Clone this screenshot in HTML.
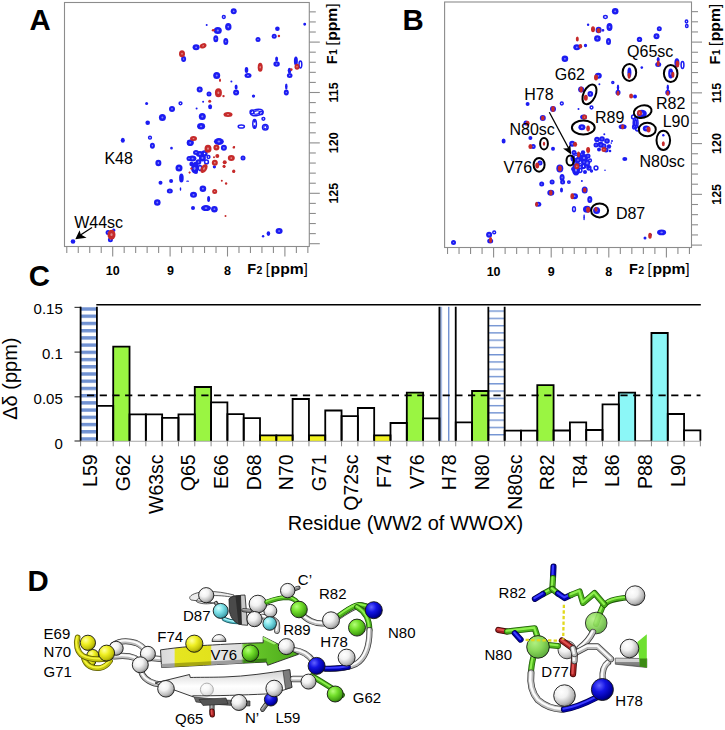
<!DOCTYPE html>
<html><head><meta charset="utf-8"><style>
html,body{margin:0;padding:0;background:#fff;}
body{width:725px;height:730px;overflow:hidden;}
svg{display:block;}
text{font-family:"Liberation Sans",sans-serif;fill:#000;}
.pl{font-size:29.4px;font-weight:bold;}
.ax{font-size:12.5px;font-weight:bold;}
.ax2{font-size:14px;font-weight:bold;}
.lb{font-size:16px;}
.yl{font-size:15px;}
.xl{font-size:19.5px;}
.yt{font-size:20px;}
.ld{font-size:15px;}
</style></head><body>
<svg width="725" height="730" viewBox="0 0 725 730">
<rect width="725" height="730" fill="#fff"/>
<text x="29.5" y="30" class="pl">A</text>
<text x="402.5" y="30" class="pl">B</text>
<rect x="64.5" y="2.5" width="244.8" height="244.0" fill="none" stroke="#8c8c8c" stroke-width="1.1"/>
<line x1="309.3" y1="11.86" x2="315.8" y2="11.86" stroke="#8c8c8c" stroke-width="1.1"/>
<line x1="309.3" y1="21.94" x2="315.8" y2="21.94" stroke="#8c8c8c" stroke-width="1.1"/>
<line x1="309.3" y1="32.02" x2="315.8" y2="32.02" stroke="#8c8c8c" stroke-width="1.1"/>
<line x1="309.3" y1="42.10" x2="319.8" y2="42.10" stroke="#8c8c8c" stroke-width="1.1"/>
<line x1="309.3" y1="52.18" x2="315.8" y2="52.18" stroke="#8c8c8c" stroke-width="1.1"/>
<line x1="309.3" y1="62.26" x2="315.8" y2="62.26" stroke="#8c8c8c" stroke-width="1.1"/>
<line x1="309.3" y1="72.34" x2="315.8" y2="72.34" stroke="#8c8c8c" stroke-width="1.1"/>
<line x1="309.3" y1="82.42" x2="315.8" y2="82.42" stroke="#8c8c8c" stroke-width="1.1"/>
<line x1="309.3" y1="92.50" x2="319.8" y2="92.50" stroke="#8c8c8c" stroke-width="1.1"/>
<line x1="309.3" y1="102.58" x2="315.8" y2="102.58" stroke="#8c8c8c" stroke-width="1.1"/>
<line x1="309.3" y1="112.66" x2="315.8" y2="112.66" stroke="#8c8c8c" stroke-width="1.1"/>
<line x1="309.3" y1="122.74" x2="315.8" y2="122.74" stroke="#8c8c8c" stroke-width="1.1"/>
<line x1="309.3" y1="132.82" x2="315.8" y2="132.82" stroke="#8c8c8c" stroke-width="1.1"/>
<line x1="309.3" y1="142.90" x2="319.8" y2="142.90" stroke="#8c8c8c" stroke-width="1.1"/>
<line x1="309.3" y1="152.98" x2="315.8" y2="152.98" stroke="#8c8c8c" stroke-width="1.1"/>
<line x1="309.3" y1="163.06" x2="315.8" y2="163.06" stroke="#8c8c8c" stroke-width="1.1"/>
<line x1="309.3" y1="173.14" x2="315.8" y2="173.14" stroke="#8c8c8c" stroke-width="1.1"/>
<line x1="309.3" y1="183.22" x2="315.8" y2="183.22" stroke="#8c8c8c" stroke-width="1.1"/>
<line x1="309.3" y1="193.30" x2="319.8" y2="193.30" stroke="#8c8c8c" stroke-width="1.1"/>
<line x1="309.3" y1="203.38" x2="315.8" y2="203.38" stroke="#8c8c8c" stroke-width="1.1"/>
<line x1="309.3" y1="213.46" x2="315.8" y2="213.46" stroke="#8c8c8c" stroke-width="1.1"/>
<line x1="309.3" y1="223.54" x2="315.8" y2="223.54" stroke="#8c8c8c" stroke-width="1.1"/>
<line x1="309.3" y1="233.62" x2="315.8" y2="233.62" stroke="#8c8c8c" stroke-width="1.1"/>
<line x1="309.3" y1="243.70" x2="319.8" y2="243.70" stroke="#8c8c8c" stroke-width="1.1"/>
<line x1="66.78" y1="246.5" x2="66.78" y2="253.0" stroke="#8c8c8c" stroke-width="1.1"/>
<line x1="78.26" y1="246.5" x2="78.26" y2="253.0" stroke="#8c8c8c" stroke-width="1.1"/>
<line x1="89.74" y1="246.5" x2="89.74" y2="253.0" stroke="#8c8c8c" stroke-width="1.1"/>
<line x1="101.22" y1="246.5" x2="101.22" y2="253.0" stroke="#8c8c8c" stroke-width="1.1"/>
<line x1="112.70" y1="246.5" x2="112.70" y2="256.5" stroke="#8c8c8c" stroke-width="1.1"/>
<line x1="124.18" y1="246.5" x2="124.18" y2="253.0" stroke="#8c8c8c" stroke-width="1.1"/>
<line x1="135.66" y1="246.5" x2="135.66" y2="253.0" stroke="#8c8c8c" stroke-width="1.1"/>
<line x1="147.14" y1="246.5" x2="147.14" y2="253.0" stroke="#8c8c8c" stroke-width="1.1"/>
<line x1="158.62" y1="246.5" x2="158.62" y2="253.0" stroke="#8c8c8c" stroke-width="1.1"/>
<line x1="170.10" y1="246.5" x2="170.10" y2="256.5" stroke="#8c8c8c" stroke-width="1.1"/>
<line x1="181.58" y1="246.5" x2="181.58" y2="253.0" stroke="#8c8c8c" stroke-width="1.1"/>
<line x1="193.06" y1="246.5" x2="193.06" y2="253.0" stroke="#8c8c8c" stroke-width="1.1"/>
<line x1="204.54" y1="246.5" x2="204.54" y2="253.0" stroke="#8c8c8c" stroke-width="1.1"/>
<line x1="216.02" y1="246.5" x2="216.02" y2="253.0" stroke="#8c8c8c" stroke-width="1.1"/>
<line x1="227.50" y1="246.5" x2="227.50" y2="256.5" stroke="#8c8c8c" stroke-width="1.1"/>
<line x1="238.98" y1="246.5" x2="238.98" y2="253.0" stroke="#8c8c8c" stroke-width="1.1"/>
<line x1="250.46" y1="246.5" x2="250.46" y2="253.0" stroke="#8c8c8c" stroke-width="1.1"/>
<line x1="261.94" y1="246.5" x2="261.94" y2="253.0" stroke="#8c8c8c" stroke-width="1.1"/>
<line x1="273.42" y1="246.5" x2="273.42" y2="253.0" stroke="#8c8c8c" stroke-width="1.1"/>
<line x1="284.90" y1="246.5" x2="284.90" y2="256.5" stroke="#8c8c8c" stroke-width="1.1"/>
<line x1="296.38" y1="246.5" x2="296.38" y2="253.0" stroke="#8c8c8c" stroke-width="1.1"/>
<line x1="307.86" y1="246.5" x2="307.86" y2="253.0" stroke="#8c8c8c" stroke-width="1.1"/>
<ellipse cx="223.8" cy="17" rx="1.40" ry="1.40" fill="none" stroke="#1c1cf2" stroke-width="1.5"/>
<ellipse cx="206.7" cy="24.9" rx="1" ry="1" fill="#1c1cf2"/>
<ellipse cx="217.8" cy="30.5" rx="4" ry="3.5" fill="#1c1cf2"/><ellipse cx="217.8" cy="30.5" rx="1.12" ry="0.98" fill="#fff" opacity="0.45"/>
<ellipse cx="228.3" cy="26.8" rx="3.2" ry="3.8" fill="#1c1cf2"/><ellipse cx="228.3" cy="26.8" rx="0.90" ry="1.06" fill="#fff" opacity="0.45"/>
<ellipse cx="215.8" cy="38.7" rx="2.5" ry="3.5" fill="#1c1cf2"/><ellipse cx="215.8" cy="38.7" rx="0.70" ry="0.98" fill="#fff" opacity="0.45"/>
<ellipse cx="225.8" cy="41.6" rx="2.5" ry="3.5" fill="#1c1cf2"/><ellipse cx="225.8" cy="41.6" rx="0.70" ry="0.98" fill="#fff" opacity="0.45"/>
<ellipse cx="196.1" cy="47.3" rx="3.5" ry="3" fill="#1c1cf2"/><ellipse cx="196.1" cy="47.3" rx="0.98" ry="0.84" fill="#fff" opacity="0.45"/>
<ellipse cx="183.6" cy="59" rx="2.5" ry="3" fill="#1c1cf2"/><ellipse cx="183.6" cy="59" rx="0.70" ry="0.84" fill="#fff" opacity="0.45"/>
<ellipse cx="216.7" cy="75.6" rx="3.5" ry="3.5" fill="#1c1cf2"/><ellipse cx="216.7" cy="75.6" rx="0.98" ry="0.98" fill="#fff" opacity="0.45"/>
<ellipse cx="233.7" cy="11.3" rx="3" ry="3" fill="#1c1cf2"/><ellipse cx="233.7" cy="11.3" rx="0.84" ry="0.84" fill="#fff" opacity="0.45"/>
<ellipse cx="258" cy="39.4" rx="2.5" ry="2.5" fill="#1c1cf2"/><ellipse cx="258" cy="39.4" rx="0.70" ry="0.70" fill="#fff" opacity="0.45"/>
<ellipse cx="277.4" cy="28.8" rx="2.3" ry="2.3" fill="#1c1cf2"/>
<ellipse cx="274.2" cy="36.2" rx="2.5" ry="2.5" fill="#1c1cf2"/><ellipse cx="274.2" cy="36.2" rx="0.70" ry="0.70" fill="#fff" opacity="0.45"/>
<ellipse cx="304.7" cy="24.3" rx="0.70" ry="0.70" fill="none" stroke="#1c1cf2" stroke-width="1.5"/>
<ellipse cx="276.6" cy="64" rx="3.2" ry="2.8" fill="#1c1cf2"/><ellipse cx="276.6" cy="64" rx="0.90" ry="0.78" fill="#fff" opacity="0.45"/>
<ellipse cx="276.6" cy="59" rx="1.5" ry="2.5" fill="#1c1cf2"/>
<ellipse cx="246.5" cy="70" rx="1.8" ry="3" fill="#1c1cf2"/>
<ellipse cx="248" cy="75.5" rx="3.5" ry="2.5" fill="#1c1cf2"/><ellipse cx="248" cy="75.5" rx="0.98" ry="0.70" fill="#fff" opacity="0.45"/>
<ellipse cx="289.5" cy="70.5" rx="1.8" ry="2.8" fill="#1c1cf2"/>
<ellipse cx="289.7" cy="75.5" rx="2.8" ry="2.5" fill="#1c1cf2"/><ellipse cx="289.7" cy="75.5" rx="0.78" ry="0.70" fill="#fff" opacity="0.45"/>
<ellipse cx="295.9" cy="61.1" rx="2" ry="4.5" fill="#1c1cf2"/>
<ellipse cx="300.4" cy="64.5" rx="1.40" ry="3.40" fill="none" stroke="#1c1cf2" stroke-width="1.5"/>
<ellipse cx="231.4" cy="81.4" rx="1" ry="1" fill="#1c1cf2"/>
<ellipse cx="122.8" cy="140.3" rx="2" ry="2.5" fill="#1c1cf2"/>
<ellipse cx="146.6" cy="103.5" rx="1.5" ry="1.5" fill="#1c1cf2"/>
<ellipse cx="147.7" cy="122.7" rx="2.3" ry="2.3" fill="#1c1cf2"/>
<ellipse cx="199.7" cy="89.4" rx="3" ry="3" fill="#1c1cf2"/><ellipse cx="199.7" cy="89.4" rx="0.84" ry="0.84" fill="#fff" opacity="0.45"/>
<ellipse cx="209" cy="93.9" rx="2.5" ry="2.5" fill="#1c1cf2"/><ellipse cx="209" cy="93.9" rx="0.70" ry="0.70" fill="#fff" opacity="0.45"/>
<ellipse cx="203.1" cy="101.8" rx="1" ry="1" fill="#1c1cf2"/>
<ellipse cx="210.1" cy="106.7" rx="2" ry="2.5" fill="#1c1cf2"/>
<ellipse cx="196.6" cy="108.6" rx="1" ry="1" fill="#1c1cf2"/>
<ellipse cx="180.5" cy="103.3" rx="1.40" ry="1.40" fill="none" stroke="#1c1cf2" stroke-width="1.5"/>
<ellipse cx="172" cy="108.9" rx="3" ry="3" fill="#1c1cf2"/><ellipse cx="172" cy="108.9" rx="0.84" ry="0.84" fill="#fff" opacity="0.45"/>
<ellipse cx="162.4" cy="117.4" rx="3.5" ry="3.5" fill="#1c1cf2"/><ellipse cx="162.4" cy="117.4" rx="0.98" ry="0.98" fill="#fff" opacity="0.45"/>
<ellipse cx="202.3" cy="116.5" rx="3.5" ry="3.5" fill="#1c1cf2"/><ellipse cx="202.3" cy="116.5" rx="0.98" ry="0.98" fill="#fff" opacity="0.45"/>
<ellipse cx="201.1" cy="126.3" rx="4" ry="3.3" fill="#1c1cf2"/><ellipse cx="201.1" cy="126.3" rx="1.12" ry="0.92" fill="#fff" opacity="0.45"/>
<ellipse cx="150" cy="137.7" rx="1.40" ry="1.40" fill="none" stroke="#1c1cf2" stroke-width="1.5"/>
<ellipse cx="152.4" cy="145.7" rx="2.5" ry="3" fill="#1c1cf2"/><ellipse cx="152.4" cy="145.7" rx="0.70" ry="0.84" fill="#fff" opacity="0.45"/>
<ellipse cx="171.5" cy="148.2" rx="0.60" ry="0.60" fill="none" stroke="#1c1cf2" stroke-width="1.5"/>
<ellipse cx="190.1" cy="142.7" rx="3.3" ry="3.3" fill="#1c1cf2"/><ellipse cx="190.1" cy="142.7" rx="0.92" ry="0.92" fill="#fff" opacity="0.45"/>
<ellipse cx="218.9" cy="141.6" rx="5" ry="3.5" fill="#1c1cf2"/><ellipse cx="218.9" cy="141.6" rx="1.40" ry="0.98" fill="#fff" opacity="0.45"/>
<ellipse cx="223.9" cy="147.8" rx="3" ry="3" fill="#1c1cf2"/><ellipse cx="223.9" cy="147.8" rx="0.84" ry="0.84" fill="#fff" opacity="0.45"/>
<ellipse cx="158.4" cy="163" rx="3" ry="3.2" fill="#1c1cf2"/><ellipse cx="158.4" cy="163" rx="0.84" ry="0.90" fill="#fff" opacity="0.45"/>
<ellipse cx="199.9" cy="154" rx="4" ry="3" fill="#1c1cf2"/><ellipse cx="199.9" cy="154" rx="1.12" ry="0.84" fill="#fff" opacity="0.45"/>
<ellipse cx="192.4" cy="158.6" rx="4" ry="3" fill="#1c1cf2"/><ellipse cx="192.4" cy="158.6" rx="1.12" ry="0.84" fill="#fff" opacity="0.45"/>
<ellipse cx="202.4" cy="158.1" rx="3.5" ry="3.5" fill="#1c1cf2"/><ellipse cx="202.4" cy="158.1" rx="0.98" ry="0.98" fill="#fff" opacity="0.45"/>
<ellipse cx="206.5" cy="161.9" rx="1.90" ry="1.90" fill="none" stroke="#1c1cf2" stroke-width="1.5"/>
<ellipse cx="195.3" cy="167.3" rx="3.5" ry="5.5" fill="#1c1cf2"/><ellipse cx="195.3" cy="167.3" rx="0.98" ry="1.54" fill="#fff" opacity="0.45"/>
<ellipse cx="214.4" cy="166.8" rx="0.90" ry="0.90" fill="none" stroke="#1c1cf2" stroke-width="1.5"/>
<ellipse cx="236.1" cy="92.5" rx="3" ry="3" fill="#1c1cf2"/><ellipse cx="236.1" cy="92.5" rx="0.84" ry="0.84" fill="#fff" opacity="0.45"/>
<ellipse cx="236.1" cy="87" rx="1.5" ry="2.5" fill="#1c1cf2"/>
<ellipse cx="286.3" cy="92.5" rx="2.5" ry="3" fill="#1c1cf2"/><ellipse cx="286.3" cy="92.5" rx="0.70" ry="0.84" fill="#fff" opacity="0.45"/>
<ellipse cx="286.3" cy="86.5" rx="1.3" ry="3" fill="#1c1cf2"/>
<ellipse cx="253.5" cy="96.1" rx="0.90" ry="0.90" fill="none" stroke="#1c1cf2" stroke-width="1.5"/>
<ellipse cx="256.8" cy="112.5" rx="6.40" ry="3.10" fill="none" stroke="#1c1cf2" stroke-width="1.5" transform="rotate(-10 256.8 112.5)"/><ellipse cx="256.8" cy="112.5" rx="3.15" ry="1.67" fill="none" stroke="#1c1cf2" stroke-width="1.1" transform="rotate(-10 256.8 112.5)"/>
<ellipse cx="252" cy="112" rx="1.90" ry="1.90" fill="none" stroke="#1c1cf2" stroke-width="1.5"/>
<ellipse cx="261" cy="113" rx="1.90" ry="1.60" fill="none" stroke="#1c1cf2" stroke-width="1.5"/>
<ellipse cx="263.4" cy="118.8" rx="1.40" ry="1.40" fill="none" stroke="#1c1cf2" stroke-width="1.5"/>
<ellipse cx="241.3" cy="126.5" rx="3.10" ry="1.60" fill="none" stroke="#1c1cf2" stroke-width="1.5"/>
<ellipse cx="254.6" cy="123.9" rx="1.80" ry="4.40" fill="none" stroke="#1c1cf2" stroke-width="1.5"/>
<ellipse cx="254.6" cy="121" rx="0.60" ry="1.00" fill="none" stroke="#1c1cf2" stroke-width="1.5"/>
<ellipse cx="254.6" cy="126.8" rx="0.60" ry="1.00" fill="none" stroke="#1c1cf2" stroke-width="1.5"/>
<ellipse cx="265.3" cy="127.2" rx="2.80" ry="2.80" fill="none" stroke="#1c1cf2" stroke-width="1.5"/><ellipse cx="265.3" cy="127.2" rx="1.53" ry="1.53" fill="none" stroke="#1c1cf2" stroke-width="1.1"/>
<ellipse cx="243" cy="158" rx="2.5" ry="2.5" fill="#1c1cf2"/><ellipse cx="243" cy="158" rx="0.70" ry="0.70" fill="#fff" opacity="0.45"/>
<ellipse cx="73" cy="241.5" rx="2.3" ry="2.3" fill="#1c1cf2"/>
<ellipse cx="108.1" cy="232.4" rx="2.5" ry="2.5" fill="#1c1cf2"/><ellipse cx="108.1" cy="232.4" rx="0.70" ry="0.70" fill="#fff" opacity="0.45"/>
<ellipse cx="110.4" cy="239.8" rx="2.5" ry="2.5" fill="#1c1cf2"/><ellipse cx="110.4" cy="239.8" rx="0.70" ry="0.70" fill="#fff" opacity="0.45"/>
<ellipse cx="113.8" cy="230.2" rx="0.90" ry="0.90" fill="none" stroke="#1c1cf2" stroke-width="1.5"/>
<ellipse cx="179" cy="168" rx="3.5" ry="3.5" fill="#1c1cf2"/><ellipse cx="179" cy="168" rx="0.98" ry="0.98" fill="#fff" opacity="0.45"/>
<ellipse cx="194.6" cy="168.5" rx="3.5" ry="5" fill="#1c1cf2"/><ellipse cx="194.6" cy="168.5" rx="0.98" ry="1.40" fill="#fff" opacity="0.45"/>
<ellipse cx="181.4" cy="178.1" rx="2.3" ry="4.5" fill="#1c1cf2"/>
<ellipse cx="160.5" cy="182.7" rx="2" ry="2" fill="#1c1cf2"/>
<ellipse cx="171.1" cy="181" rx="2" ry="2" fill="#1c1cf2"/>
<ellipse cx="187.6" cy="181.2" rx="1.5" ry="0.6" fill="#1c1cf2"/>
<ellipse cx="202.9" cy="188.7" rx="3.3" ry="3.3" fill="#1c1cf2"/><ellipse cx="202.9" cy="188.7" rx="0.92" ry="0.92" fill="#fff" opacity="0.45"/>
<ellipse cx="169.8" cy="191.1" rx="3" ry="2.5" fill="#1c1cf2"/><ellipse cx="169.8" cy="191.1" rx="0.84" ry="0.70" fill="#fff" opacity="0.45"/>
<ellipse cx="180.5" cy="189.1" rx="0.8" ry="1.8" fill="#1c1cf2"/>
<ellipse cx="193.5" cy="194.8" rx="3.5" ry="3" fill="#1c1cf2"/><ellipse cx="193.5" cy="194.8" rx="0.98" ry="0.84" fill="#fff" opacity="0.45"/>
<ellipse cx="208.6" cy="199.1" rx="1.5" ry="3" fill="#1c1cf2"/>
<ellipse cx="157.3" cy="202.5" rx="3.3" ry="3.3" fill="#1c1cf2"/><ellipse cx="157.3" cy="202.5" rx="0.92" ry="0.92" fill="#fff" opacity="0.45"/>
<ellipse cx="193" cy="208.1" rx="2" ry="2" fill="#1c1cf2"/>
<ellipse cx="206" cy="208.1" rx="5" ry="3" fill="#1c1cf2"/><ellipse cx="206" cy="208.1" rx="1.40" ry="0.84" fill="#fff" opacity="0.45"/>
<ellipse cx="214.4" cy="209.2" rx="3.3" ry="3.3" fill="#1c1cf2"/><ellipse cx="214.4" cy="209.2" rx="0.92" ry="0.92" fill="#fff" opacity="0.45"/>
<ellipse cx="263.1" cy="236.2" rx="1.2" ry="1.2" fill="#1c1cf2"/>
<ellipse cx="268.4" cy="233.6" rx="1.8" ry="2.3" fill="#1c1cf2"/>
<ellipse cx="279.1" cy="231" rx="3.5" ry="3" fill="#1c1cf2"/><ellipse cx="279.1" cy="231" rx="0.98" ry="0.84" fill="#fff" opacity="0.45"/>
<ellipse cx="190.3" cy="142.8" rx="3.5" ry="3" fill="#1c1cf2"/><ellipse cx="190.3" cy="142.8" rx="0.98" ry="0.84" fill="#fff" opacity="0.45"/>
<ellipse cx="196" cy="152.5" rx="3" ry="2.5" fill="#1c1cf2"/><ellipse cx="196" cy="152.5" rx="0.84" ry="0.70" fill="#fff" opacity="0.45"/>
<ellipse cx="204.5" cy="153.5" rx="2.40" ry="2.40" fill="none" stroke="#1c1cf2" stroke-width="1.5"/><ellipse cx="204.5" cy="153.5" rx="1.35" ry="1.35" fill="none" stroke="#1c1cf2" stroke-width="1.1"/>
<ellipse cx="189" cy="158.5" rx="2.5" ry="2.5" fill="#1c1cf2"/><ellipse cx="189" cy="158.5" rx="0.70" ry="0.70" fill="#fff" opacity="0.45"/>
<ellipse cx="198.5" cy="162" rx="2.8" ry="2.8" fill="#1c1cf2"/><ellipse cx="198.5" cy="162" rx="0.78" ry="0.78" fill="#fff" opacity="0.45"/>
<ellipse cx="208.5" cy="157" rx="1.40" ry="1.40" fill="none" stroke="#1c1cf2" stroke-width="1.5"/>
<ellipse cx="191.5" cy="164" rx="2.2" ry="2.2" fill="#1c1cf2"/>
<ellipse cx="200" cy="168" rx="1.60" ry="2.40" fill="none" stroke="#1c1cf2" stroke-width="1.5"/>
<ellipse cx="196" cy="172" rx="2" ry="2" fill="#1c1cf2"/>
<ellipse cx="213.3" cy="30.3" rx="1.5" ry="1.2" fill="#c62a2a"/>
<ellipse cx="203.1" cy="45.8" rx="3.5" ry="2.5" fill="#c62a2a" transform="rotate(-20 203.1 45.8)"/><ellipse cx="203.1" cy="45.8" rx="0.98" ry="0.70" fill="#fff" opacity="0.45" transform="rotate(-20 203.1 45.8)"/>
<ellipse cx="182" cy="53.7" rx="3" ry="3.5" fill="#c62a2a"/><ellipse cx="182" cy="53.7" rx="0.84" ry="0.98" fill="#fff" opacity="0.45"/>
<ellipse cx="220" cy="80.3" rx="1" ry="1.8" fill="#c62a2a"/>
<ellipse cx="278.9" cy="36" rx="1.2" ry="1.2" fill="#c62a2a"/>
<ellipse cx="260.2" cy="67.3" rx="2.5" ry="4.5" fill="#c62a2a"/><ellipse cx="260.2" cy="67.3" rx="0.70" ry="1.26" fill="#fff" opacity="0.45"/>
<ellipse cx="291.3" cy="69.6" rx="1.3" ry="1.3" fill="#c62a2a"/>
<ellipse cx="297" cy="66.7" rx="2.5" ry="3" fill="#c62a2a"/><ellipse cx="297" cy="66.7" rx="0.70" ry="0.84" fill="#fff" opacity="0.45"/>
<ellipse cx="218.4" cy="92.7" rx="3.5" ry="4.5" fill="#c62a2a"/><ellipse cx="218.4" cy="92.7" rx="0.98" ry="1.26" fill="#fff" opacity="0.45"/>
<ellipse cx="223.5" cy="96.1" rx="1.2" ry="1.2" fill="#c62a2a"/>
<ellipse cx="209.7" cy="101.2" rx="1.5" ry="1.5" fill="#c62a2a"/>
<ellipse cx="228" cy="114.6" rx="4.5" ry="2.5" fill="#c62a2a"/><ellipse cx="228" cy="114.6" rx="1.26" ry="0.70" fill="#fff" opacity="0.45"/>
<ellipse cx="193.5" cy="138.6" rx="3.5" ry="2.5" fill="#c62a2a"/><ellipse cx="193.5" cy="138.6" rx="0.98" ry="0.70" fill="#fff" opacity="0.45"/>
<ellipse cx="208" cy="148.7" rx="3.5" ry="4" fill="#c62a2a"/><ellipse cx="208" cy="148.7" rx="0.98" ry="1.12" fill="#fff" opacity="0.45"/>
<ellipse cx="216.4" cy="147.4" rx="3" ry="3" fill="#c62a2a"/><ellipse cx="216.4" cy="147.4" rx="0.84" ry="0.84" fill="#fff" opacity="0.45"/>
<ellipse cx="204" cy="168.5" rx="3" ry="5" fill="#c62a2a" transform="rotate(30 204 168.5)"/><ellipse cx="204" cy="168.5" rx="0.84" ry="1.40" fill="#fff" opacity="0.45" transform="rotate(30 204 168.5)"/>
<ellipse cx="214.8" cy="162.7" rx="3" ry="3" fill="#c62a2a"/><ellipse cx="214.8" cy="162.7" rx="0.84" ry="0.84" fill="#fff" opacity="0.45"/>
<ellipse cx="217.3" cy="156.1" rx="2" ry="2" fill="#c62a2a"/>
<ellipse cx="214" cy="157.3" rx="1" ry="1" fill="#c62a2a"/>
<ellipse cx="224.7" cy="162.3" rx="2" ry="2" fill="#c62a2a"/>
<ellipse cx="224.3" cy="166.4" rx="1" ry="1.5" fill="#c62a2a"/>
<ellipse cx="231.3" cy="158.1" rx="3.5" ry="3" fill="#c62a2a"/><ellipse cx="231.3" cy="158.1" rx="0.98" ry="0.84" fill="#fff" opacity="0.45"/>
<ellipse cx="233.8" cy="147.4" rx="1.2" ry="1.2" fill="#c62a2a"/>
<ellipse cx="233.8" cy="171" rx="1.5" ry="1.5" fill="#c62a2a"/>
<ellipse cx="189.5" cy="172.6" rx="0.8" ry="0.8" fill="#c62a2a"/>
<ellipse cx="191.6" cy="168.5" rx="0.8" ry="0.8" fill="#c62a2a"/>
<ellipse cx="234.2" cy="147" rx="1" ry="1" fill="#c62a2a"/>
<ellipse cx="111.5" cy="234.7" rx="4" ry="5" fill="#c62a2a"/><ellipse cx="111.5" cy="234.7" rx="1.12" ry="1.40" fill="#fff" opacity="0.45"/>
<ellipse cx="189.6" cy="172.5" rx="1" ry="1" fill="#c62a2a"/>
<ellipse cx="191.2" cy="168.5" rx="1" ry="1" fill="#c62a2a"/>
<ellipse cx="224" cy="166.3" rx="1.5" ry="1.5" fill="#c62a2a"/>
<ellipse cx="214.7" cy="191.4" rx="2.5" ry="2.5" fill="#c62a2a"/><ellipse cx="214.7" cy="191.4" rx="0.70" ry="0.70" fill="#fff" opacity="0.45"/>
<ellipse cx="221.8" cy="180.7" rx="1" ry="1" fill="#c62a2a"/>
<ellipse cx="226.1" cy="183.5" rx="1.2" ry="1.2" fill="#c62a2a"/>
<ellipse cx="225.5" cy="216" rx="1" ry="1" fill="#c62a2a"/>
<ellipse cx="233.7" cy="171.4" rx="1.5" ry="1.5" fill="#c62a2a"/>
<text class="ax" transform="translate(338,92.5) rotate(-90)" text-anchor="middle">115</text>
<text class="ax" transform="translate(338,142.8) rotate(-90)" text-anchor="middle">120</text>
<text class="ax" transform="translate(338,193.2) rotate(-90)" text-anchor="middle">125</text>
<g transform="translate(337.2,64.2) rotate(-90)" font-weight="bold" font-size="14.5"><text x="0">F</text><text x="9.3" font-size="10.5">1</text><text x="18.6" font-weight="normal">[</text><text x="23.4" textLength="33" lengthAdjust="spacingAndGlyphs">ppm</text><text x="56.6" font-weight="normal">]</text></g>
<text class="ax" x="112.7" y="274.5" text-anchor="middle">10</text>
<text class="ax" x="170.4" y="274.5" text-anchor="middle">9</text>
<text class="ax" x="227.5" y="274.5" text-anchor="middle">8</text>
<g transform="translate(247.2,273.6)" font-weight="bold" font-size="14.5"><text x="0">F</text><text x="9.3" font-size="10.5">2</text><text x="18.6" font-weight="normal">[</text><text x="23.4" textLength="33" lengthAdjust="spacingAndGlyphs">ppm</text><text x="56.6" font-weight="normal">]</text></g>
<text class="lb" x="104.4" y="164.3">K48</text>
<text class="lb" x="74.2" y="227.5">W44sc</text>
<line x1="92" y1="227.5" x2="79" y2="236" stroke="#000" stroke-width="1.3"/>
<path d="M75.3,239.2 L79.6,230.3 L80.8,234.4 L86.6,237.8 Z" fill="#000"/>
<rect x="444.6" y="2" width="246.89999999999998" height="245.5" fill="none" stroke="#8c8c8c" stroke-width="1.1"/>
<line x1="691.5" y1="11.65" x2="698.0" y2="11.65" stroke="#8c8c8c" stroke-width="1.1"/>
<line x1="691.5" y1="21.80" x2="698.0" y2="21.80" stroke="#8c8c8c" stroke-width="1.1"/>
<line x1="691.5" y1="31.95" x2="698.0" y2="31.95" stroke="#8c8c8c" stroke-width="1.1"/>
<line x1="691.5" y1="42.10" x2="702.0" y2="42.10" stroke="#8c8c8c" stroke-width="1.1"/>
<line x1="691.5" y1="52.25" x2="698.0" y2="52.25" stroke="#8c8c8c" stroke-width="1.1"/>
<line x1="691.5" y1="62.40" x2="698.0" y2="62.40" stroke="#8c8c8c" stroke-width="1.1"/>
<line x1="691.5" y1="72.55" x2="698.0" y2="72.55" stroke="#8c8c8c" stroke-width="1.1"/>
<line x1="691.5" y1="82.70" x2="698.0" y2="82.70" stroke="#8c8c8c" stroke-width="1.1"/>
<line x1="691.5" y1="92.85" x2="702.0" y2="92.85" stroke="#8c8c8c" stroke-width="1.1"/>
<line x1="691.5" y1="103.00" x2="698.0" y2="103.00" stroke="#8c8c8c" stroke-width="1.1"/>
<line x1="691.5" y1="113.15" x2="698.0" y2="113.15" stroke="#8c8c8c" stroke-width="1.1"/>
<line x1="691.5" y1="123.30" x2="698.0" y2="123.30" stroke="#8c8c8c" stroke-width="1.1"/>
<line x1="691.5" y1="133.45" x2="698.0" y2="133.45" stroke="#8c8c8c" stroke-width="1.1"/>
<line x1="691.5" y1="143.60" x2="702.0" y2="143.60" stroke="#8c8c8c" stroke-width="1.1"/>
<line x1="691.5" y1="153.75" x2="698.0" y2="153.75" stroke="#8c8c8c" stroke-width="1.1"/>
<line x1="691.5" y1="163.90" x2="698.0" y2="163.90" stroke="#8c8c8c" stroke-width="1.1"/>
<line x1="691.5" y1="174.05" x2="698.0" y2="174.05" stroke="#8c8c8c" stroke-width="1.1"/>
<line x1="691.5" y1="184.20" x2="698.0" y2="184.20" stroke="#8c8c8c" stroke-width="1.1"/>
<line x1="691.5" y1="194.35" x2="702.0" y2="194.35" stroke="#8c8c8c" stroke-width="1.1"/>
<line x1="691.5" y1="204.50" x2="698.0" y2="204.50" stroke="#8c8c8c" stroke-width="1.1"/>
<line x1="691.5" y1="214.65" x2="698.0" y2="214.65" stroke="#8c8c8c" stroke-width="1.1"/>
<line x1="691.5" y1="224.80" x2="698.0" y2="224.80" stroke="#8c8c8c" stroke-width="1.1"/>
<line x1="691.5" y1="234.95" x2="698.0" y2="234.95" stroke="#8c8c8c" stroke-width="1.1"/>
<line x1="691.5" y1="245.10" x2="702.0" y2="245.10" stroke="#8c8c8c" stroke-width="1.1"/>
<line x1="447.52" y1="247.5" x2="447.52" y2="254.0" stroke="#8c8c8c" stroke-width="1.1"/>
<line x1="459.04" y1="247.5" x2="459.04" y2="254.0" stroke="#8c8c8c" stroke-width="1.1"/>
<line x1="470.56" y1="247.5" x2="470.56" y2="254.0" stroke="#8c8c8c" stroke-width="1.1"/>
<line x1="482.08" y1="247.5" x2="482.08" y2="254.0" stroke="#8c8c8c" stroke-width="1.1"/>
<line x1="493.60" y1="247.5" x2="493.60" y2="257.5" stroke="#8c8c8c" stroke-width="1.1"/>
<line x1="505.12" y1="247.5" x2="505.12" y2="254.0" stroke="#8c8c8c" stroke-width="1.1"/>
<line x1="516.64" y1="247.5" x2="516.64" y2="254.0" stroke="#8c8c8c" stroke-width="1.1"/>
<line x1="528.16" y1="247.5" x2="528.16" y2="254.0" stroke="#8c8c8c" stroke-width="1.1"/>
<line x1="539.68" y1="247.5" x2="539.68" y2="254.0" stroke="#8c8c8c" stroke-width="1.1"/>
<line x1="551.20" y1="247.5" x2="551.20" y2="257.5" stroke="#8c8c8c" stroke-width="1.1"/>
<line x1="562.72" y1="247.5" x2="562.72" y2="254.0" stroke="#8c8c8c" stroke-width="1.1"/>
<line x1="574.24" y1="247.5" x2="574.24" y2="254.0" stroke="#8c8c8c" stroke-width="1.1"/>
<line x1="585.76" y1="247.5" x2="585.76" y2="254.0" stroke="#8c8c8c" stroke-width="1.1"/>
<line x1="597.28" y1="247.5" x2="597.28" y2="254.0" stroke="#8c8c8c" stroke-width="1.1"/>
<line x1="608.80" y1="247.5" x2="608.80" y2="257.5" stroke="#8c8c8c" stroke-width="1.1"/>
<line x1="620.32" y1="247.5" x2="620.32" y2="254.0" stroke="#8c8c8c" stroke-width="1.1"/>
<line x1="631.84" y1="247.5" x2="631.84" y2="254.0" stroke="#8c8c8c" stroke-width="1.1"/>
<line x1="643.36" y1="247.5" x2="643.36" y2="254.0" stroke="#8c8c8c" stroke-width="1.1"/>
<line x1="654.88" y1="247.5" x2="654.88" y2="254.0" stroke="#8c8c8c" stroke-width="1.1"/>
<line x1="666.40" y1="247.5" x2="666.40" y2="257.5" stroke="#8c8c8c" stroke-width="1.1"/>
<line x1="677.92" y1="247.5" x2="677.92" y2="254.0" stroke="#8c8c8c" stroke-width="1.1"/>
<line x1="689.44" y1="247.5" x2="689.44" y2="254.0" stroke="#8c8c8c" stroke-width="1.1"/>
<ellipse cx="605.4" cy="17" rx="1.90" ry="1.40" fill="none" stroke="#1c1cf2" stroke-width="1.5"/>
<ellipse cx="588.1" cy="24.7" rx="1.2" ry="1.2" fill="#1c1cf2"/>
<ellipse cx="598.6" cy="30" rx="3" ry="3.3" fill="#1c1cf2"/><ellipse cx="598.6" cy="30" rx="0.84" ry="0.92" fill="#fff" opacity="0.45"/>
<ellipse cx="603" cy="30.3" rx="0.60" ry="0.60" fill="none" stroke="#1c1cf2" stroke-width="1.5"/>
<ellipse cx="609.5" cy="27" rx="3" ry="4" fill="#1c1cf2"/><ellipse cx="609.5" cy="27" rx="0.84" ry="1.12" fill="#fff" opacity="0.45"/>
<ellipse cx="597.4" cy="38.5" rx="3.3" ry="3.3" fill="#1c1cf2"/><ellipse cx="597.4" cy="38.5" rx="0.92" ry="0.92" fill="#fff" opacity="0.45"/>
<ellipse cx="608.5" cy="41.5" rx="2.5" ry="3.5" fill="#1c1cf2"/><ellipse cx="608.5" cy="41.5" rx="0.70" ry="0.98" fill="#fff" opacity="0.45"/>
<ellipse cx="576.8" cy="47.3" rx="3.5" ry="3" fill="#1c1cf2"/><ellipse cx="576.8" cy="47.3" rx="0.98" ry="0.84" fill="#fff" opacity="0.45"/>
<ellipse cx="585.5" cy="45.5" rx="0.90" ry="0.90" fill="none" stroke="#1c1cf2" stroke-width="1.5"/>
<ellipse cx="564.9" cy="58.8" rx="3.3" ry="3.3" fill="#1c1cf2"/><ellipse cx="564.9" cy="58.8" rx="0.92" ry="0.92" fill="#fff" opacity="0.45"/>
<ellipse cx="598.3" cy="75.8" rx="3.5" ry="3" fill="#1c1cf2"/><ellipse cx="598.3" cy="75.8" rx="0.98" ry="0.84" fill="#fff" opacity="0.45"/>
<ellipse cx="615.2" cy="11.3" rx="3.3" ry="3.3" fill="#1c1cf2"/><ellipse cx="615.2" cy="11.3" rx="0.92" ry="0.92" fill="#fff" opacity="0.45"/>
<ellipse cx="639.5" cy="39.4" rx="2.7" ry="2.7" fill="#1c1cf2"/><ellipse cx="639.5" cy="39.4" rx="0.76" ry="0.76" fill="#fff" opacity="0.45"/>
<ellipse cx="659.3" cy="28.8" rx="2.5" ry="2.5" fill="#1c1cf2"/><ellipse cx="659.3" cy="28.8" rx="0.70" ry="0.70" fill="#fff" opacity="0.45"/>
<ellipse cx="656.5" cy="36.2" rx="3" ry="3" fill="#1c1cf2"/><ellipse cx="656.5" cy="36.2" rx="0.84" ry="0.84" fill="#fff" opacity="0.45"/>
<ellipse cx="686.5" cy="21.5" rx="1.20" ry="1.40" fill="none" stroke="#1c1cf2" stroke-width="1.5"/>
<ellipse cx="686.8" cy="26" rx="1.20" ry="1.60" fill="none" stroke="#1c1cf2" stroke-width="1.5"/>
<ellipse cx="612.8" cy="82.6" rx="1.00" ry="1.00" fill="none" stroke="#1c1cf2" stroke-width="1.5"/>
<ellipse cx="658.2" cy="64.5" rx="3" ry="2.5" fill="#1c1cf2"/><ellipse cx="658.2" cy="64.5" rx="0.84" ry="0.70" fill="#fff" opacity="0.45"/>
<ellipse cx="658.2" cy="59.5" rx="1.5" ry="2.5" fill="#1c1cf2"/>
<ellipse cx="676.9" cy="62.8" rx="2.5" ry="4.5" fill="#1c1cf2"/><ellipse cx="676.9" cy="62.8" rx="0.70" ry="1.26" fill="#fff" opacity="0.45"/>
<ellipse cx="682.5" cy="65" rx="1.40" ry="3.40" fill="none" stroke="#1c1cf2" stroke-width="1.5"/>
<ellipse cx="641.8" cy="67.6" rx="1.3" ry="1.3" fill="#1c1cf2"/>
<ellipse cx="629.4" cy="72.4" rx="2" ry="5" fill="#1c1cf2"/>
<ellipse cx="670.7" cy="73.5" rx="2.5" ry="5" fill="#1c1cf2"/><ellipse cx="670.7" cy="73.5" rx="0.70" ry="1.40" fill="#fff" opacity="0.45"/>
<ellipse cx="503.6" cy="141" rx="2" ry="2.5" fill="#1c1cf2"/>
<ellipse cx="527.6" cy="104" rx="2" ry="2" fill="#1c1cf2"/>
<ellipse cx="561.8" cy="103.5" rx="1.40" ry="1.40" fill="none" stroke="#1c1cf2" stroke-width="1.5"/>
<ellipse cx="553" cy="109.1" rx="3" ry="3" fill="#1c1cf2"/><ellipse cx="553" cy="109.1" rx="0.84" ry="0.84" fill="#fff" opacity="0.45"/>
<ellipse cx="542.8" cy="118" rx="3" ry="3" fill="#1c1cf2"/><ellipse cx="542.8" cy="118" rx="0.84" ry="0.84" fill="#fff" opacity="0.45"/>
<ellipse cx="526" cy="123" rx="2.5" ry="2.5" fill="#1c1cf2"/><ellipse cx="526" cy="123" rx="0.70" ry="0.70" fill="#fff" opacity="0.45"/>
<ellipse cx="530.4" cy="138" rx="2" ry="2" fill="#1c1cf2"/>
<ellipse cx="533.2" cy="146.5" rx="2.5" ry="2.5" fill="#1c1cf2"/><ellipse cx="533.2" cy="146.5" rx="0.70" ry="0.70" fill="#fff" opacity="0.45"/>
<ellipse cx="553" cy="148.7" rx="2" ry="2" fill="#1c1cf2"/>
<ellipse cx="581.1" cy="89.4" rx="3" ry="3" fill="#1c1cf2"/><ellipse cx="581.1" cy="89.4" rx="0.84" ry="0.84" fill="#fff" opacity="0.45"/>
<ellipse cx="590.3" cy="93.9" rx="2.8" ry="2.8" fill="#1c1cf2"/><ellipse cx="590.3" cy="93.9" rx="0.78" ry="0.78" fill="#fff" opacity="0.45"/>
<ellipse cx="591.5" cy="107.5" rx="1.40" ry="1.40" fill="none" stroke="#1c1cf2" stroke-width="1.5"/>
<ellipse cx="578.5" cy="109.1" rx="1" ry="1" fill="#1c1cf2"/>
<ellipse cx="599.4" cy="84.3" rx="1" ry="1" fill="#1c1cf2"/>
<ellipse cx="583.6" cy="117.1" rx="3.5" ry="2.5" fill="#1c1cf2"/><ellipse cx="583.6" cy="117.1" rx="0.98" ry="0.70" fill="#fff" opacity="0.45"/>
<ellipse cx="581.9" cy="127.2" rx="3.5" ry="3" fill="#1c1cf2"/><ellipse cx="581.9" cy="127.2" rx="0.98" ry="0.84" fill="#fff" opacity="0.45"/>
<ellipse cx="604.3" cy="134.3" rx="1" ry="1" fill="#1c1cf2"/>
<ellipse cx="600.5" cy="144.2" rx="3" ry="2.5" fill="#1c1cf2"/><ellipse cx="600.5" cy="144.2" rx="0.84" ry="0.70" fill="#fff" opacity="0.45"/>
<ellipse cx="572.2" cy="143.7" rx="3" ry="3" fill="#1c1cf2"/><ellipse cx="572.2" cy="143.7" rx="0.84" ry="0.84" fill="#fff" opacity="0.45"/>
<ellipse cx="576" cy="157" rx="3.40" ry="3.40" fill="none" stroke="#1c1cf2" stroke-width="1.5"/><ellipse cx="576" cy="157" rx="1.80" ry="1.80" fill="none" stroke="#1c1cf2" stroke-width="1.1"/>
<ellipse cx="584" cy="158" rx="4" ry="4" fill="#1c1cf2"/><ellipse cx="584" cy="158" rx="1.12" ry="1.12" fill="#fff" opacity="0.45"/>
<ellipse cx="580" cy="162" rx="3.40" ry="3.40" fill="none" stroke="#1c1cf2" stroke-width="1.5"/><ellipse cx="580" cy="162" rx="1.80" ry="1.80" fill="none" stroke="#1c1cf2" stroke-width="1.1"/>
<ellipse cx="587" cy="163" rx="2.40" ry="2.40" fill="none" stroke="#1c1cf2" stroke-width="1.5"/><ellipse cx="587" cy="163" rx="1.35" ry="1.35" fill="none" stroke="#1c1cf2" stroke-width="1.1"/>
<ellipse cx="575" cy="163" rx="3" ry="3" fill="#1c1cf2"/><ellipse cx="575" cy="163" rx="0.84" ry="0.84" fill="#fff" opacity="0.45"/>
<ellipse cx="574" cy="152.5" rx="2.5" ry="2.5" fill="#1c1cf2"/><ellipse cx="574" cy="152.5" rx="0.70" ry="0.70" fill="#fff" opacity="0.45"/>
<ellipse cx="579" cy="155" rx="2.5" ry="2.5" fill="#1c1cf2"/><ellipse cx="579" cy="155" rx="0.70" ry="0.70" fill="#fff" opacity="0.45"/>
<ellipse cx="583" cy="152.5" rx="2.2" ry="2.2" fill="#1c1cf2"/>
<ellipse cx="588" cy="156" rx="2.5" ry="2.5" fill="#1c1cf2"/><ellipse cx="588" cy="156" rx="0.70" ry="0.70" fill="#fff" opacity="0.45"/>
<ellipse cx="590" cy="160.5" rx="1.40" ry="1.40" fill="none" stroke="#1c1cf2" stroke-width="1.5"/>
<ellipse cx="572.5" cy="158.5" rx="2" ry="3" fill="#1c1cf2"/>
<ellipse cx="577.5" cy="165.5" rx="2.5" ry="2.5" fill="#1c1cf2"/><ellipse cx="577.5" cy="165.5" rx="0.70" ry="0.70" fill="#fff" opacity="0.45"/>
<ellipse cx="583" cy="166.5" rx="1.90" ry="1.90" fill="none" stroke="#1c1cf2" stroke-width="1.5"/>
<ellipse cx="588.5" cy="167" rx="2" ry="2" fill="#1c1cf2"/>
<ellipse cx="580" cy="170.5" rx="1.90" ry="1.90" fill="none" stroke="#1c1cf2" stroke-width="1.5"/>
<ellipse cx="578" cy="160" rx="3" ry="3" fill="#1c1cf2"/><ellipse cx="578" cy="160" rx="0.84" ry="0.84" fill="#fff" opacity="0.45"/>
<ellipse cx="584" cy="162" rx="2.5" ry="2.5" fill="#1c1cf2"/><ellipse cx="584" cy="162" rx="0.70" ry="0.70" fill="#fff" opacity="0.45"/>
<ellipse cx="575" cy="167" rx="2.5" ry="3" fill="#1c1cf2"/><ellipse cx="575" cy="167" rx="0.70" ry="0.84" fill="#fff" opacity="0.45"/>
<ellipse cx="585" cy="172" rx="2" ry="2" fill="#1c1cf2"/>
<ellipse cx="591.5" cy="171" rx="0.90" ry="0.90" fill="none" stroke="#1c1cf2" stroke-width="1.5"/>
<ellipse cx="573" cy="169" rx="2" ry="2" fill="#1c1cf2"/>
<ellipse cx="597" cy="139.5" rx="2.8" ry="2.8" fill="#1c1cf2"/><ellipse cx="597" cy="139.5" rx="0.78" ry="0.78" fill="#fff" opacity="0.45"/>
<ellipse cx="602" cy="139" rx="2.8" ry="2.8" fill="#1c1cf2"/><ellipse cx="602" cy="139" rx="0.78" ry="0.78" fill="#fff" opacity="0.45"/>
<ellipse cx="607" cy="141" rx="2.8" ry="2.8" fill="#1c1cf2"/><ellipse cx="607" cy="141" rx="0.78" ry="0.78" fill="#fff" opacity="0.45"/>
<ellipse cx="596" cy="145" rx="2.5" ry="2.5" fill="#1c1cf2"/><ellipse cx="596" cy="145" rx="0.70" ry="0.70" fill="#fff" opacity="0.45"/>
<ellipse cx="601" cy="145" rx="2.8" ry="2.8" fill="#1c1cf2"/><ellipse cx="601" cy="145" rx="0.78" ry="0.78" fill="#fff" opacity="0.45"/>
<ellipse cx="604" cy="146" rx="2.5" ry="2.5" fill="#1c1cf2"/><ellipse cx="604" cy="146" rx="0.70" ry="0.70" fill="#fff" opacity="0.45"/>
<ellipse cx="609" cy="146.5" rx="2.2" ry="2.2" fill="#1c1cf2"/>
<ellipse cx="599" cy="149.5" rx="2" ry="2" fill="#1c1cf2"/>
<ellipse cx="606" cy="150" rx="2.5" ry="2.5" fill="#1c1cf2"/><ellipse cx="606" cy="150" rx="0.70" ry="0.70" fill="#fff" opacity="0.45"/>
<ellipse cx="610" cy="151" rx="1.3" ry="1.3" fill="#1c1cf2"/>
<ellipse cx="612" cy="141" rx="1" ry="1" fill="#1c1cf2"/>
<ellipse cx="618" cy="92.5" rx="2.5" ry="2.8" fill="#1c1cf2"/><ellipse cx="618" cy="92.5" rx="0.70" ry="0.78" fill="#fff" opacity="0.45"/>
<ellipse cx="618" cy="87.5" rx="1.2" ry="3" fill="#1c1cf2"/>
<ellipse cx="635" cy="96.5" rx="2" ry="2" fill="#1c1cf2"/>
<ellipse cx="667.8" cy="92.5" rx="2.5" ry="2.8" fill="#1c1cf2"/><ellipse cx="667.8" cy="92.5" rx="0.70" ry="0.78" fill="#fff" opacity="0.45"/>
<ellipse cx="667.8" cy="87.5" rx="1.2" ry="3" fill="#1c1cf2"/>
<ellipse cx="641.8" cy="113.7" rx="5" ry="4" fill="#1c1cf2"/><ellipse cx="641.8" cy="113.7" rx="1.40" ry="1.12" fill="#fff" opacity="0.45"/>
<ellipse cx="635.6" cy="123" rx="2.40" ry="5.40" fill="none" stroke="#1c1cf2" stroke-width="1.5"/><ellipse cx="635.6" cy="123" rx="1.35" ry="2.70" fill="none" stroke="#1c1cf2" stroke-width="1.1"/>
<ellipse cx="635.6" cy="123" rx="0.90" ry="3.40" fill="none" stroke="#1c1cf2" stroke-width="1.5"/>
<ellipse cx="633.5" cy="117" rx="1.90" ry="1.90" fill="none" stroke="#1c1cf2" stroke-width="1.5"/>
<ellipse cx="637.5" cy="129" rx="1.90" ry="1.90" fill="none" stroke="#1c1cf2" stroke-width="1.5"/>
<ellipse cx="634" cy="127" rx="1.40" ry="1.90" fill="none" stroke="#1c1cf2" stroke-width="1.5"/>
<ellipse cx="622.6" cy="126.7" rx="4" ry="2.5" fill="#1c1cf2"/><ellipse cx="622.6" cy="126.7" rx="1.12" ry="0.70" fill="#fff" opacity="0.45"/>
<ellipse cx="646.3" cy="128.4" rx="3.5" ry="3" fill="#1c1cf2"/><ellipse cx="646.3" cy="128.4" rx="0.98" ry="0.84" fill="#fff" opacity="0.45"/>
<ellipse cx="663.3" cy="135.2" rx="1.2" ry="1.2" fill="#1c1cf2"/>
<ellipse cx="624.8" cy="159.1" rx="2.5" ry="2" fill="#1c1cf2"/>
<ellipse cx="611.3" cy="143.1" rx="0.8" ry="0.8" fill="#1c1cf2"/>
<ellipse cx="453.5" cy="242.6" rx="2.5" ry="2.5" fill="#1c1cf2"/><ellipse cx="453.5" cy="242.6" rx="0.70" ry="0.70" fill="#fff" opacity="0.45"/>
<ellipse cx="489.1" cy="234.7" rx="3" ry="3" fill="#1c1cf2"/><ellipse cx="489.1" cy="234.7" rx="0.84" ry="0.84" fill="#fff" opacity="0.45"/>
<ellipse cx="490.2" cy="240.9" rx="3" ry="2.5" fill="#1c1cf2"/><ellipse cx="490.2" cy="240.9" rx="0.84" ry="0.70" fill="#fff" opacity="0.45"/>
<ellipse cx="494.2" cy="232.4" rx="1.40" ry="1.40" fill="none" stroke="#1c1cf2" stroke-width="1.5"/>
<ellipse cx="540" cy="163" rx="2.5" ry="2.5" fill="#1c1cf2"/><ellipse cx="540" cy="163" rx="0.70" ry="0.70" fill="#fff" opacity="0.45"/>
<ellipse cx="559.8" cy="168.5" rx="3.5" ry="4" fill="#1c1cf2"/><ellipse cx="559.8" cy="168.5" rx="0.98" ry="1.12" fill="#fff" opacity="0.45"/>
<ellipse cx="576" cy="170" rx="4" ry="5.5" fill="#1c1cf2"/><ellipse cx="576" cy="170" rx="1.12" ry="1.54" fill="#fff" opacity="0.45"/>
<ellipse cx="584" cy="166" rx="1.90" ry="1.90" fill="none" stroke="#1c1cf2" stroke-width="1.5"/>
<ellipse cx="589" cy="168" rx="1.90" ry="1.90" fill="none" stroke="#1c1cf2" stroke-width="1.5"/>
<ellipse cx="596" cy="168" rx="1.90" ry="1.90" fill="none" stroke="#1c1cf2" stroke-width="1.5"/>
<ellipse cx="605" cy="170.2" rx="0.8" ry="0.8" fill="#1c1cf2"/>
<ellipse cx="562.1" cy="177.6" rx="2.5" ry="3.5" fill="#1c1cf2"/><ellipse cx="562.1" cy="177.6" rx="0.70" ry="0.98" fill="#fff" opacity="0.45"/>
<ellipse cx="562.6" cy="182.1" rx="2.5" ry="2.5" fill="#1c1cf2"/><ellipse cx="562.6" cy="182.1" rx="0.70" ry="0.70" fill="#fff" opacity="0.45"/>
<ellipse cx="568.9" cy="182.1" rx="1.20" ry="1.20" fill="none" stroke="#1c1cf2" stroke-width="1.5"/>
<ellipse cx="541.7" cy="184.1" rx="2.5" ry="2.5" fill="#1c1cf2"/><ellipse cx="541.7" cy="184.1" rx="0.70" ry="0.70" fill="#fff" opacity="0.45"/>
<ellipse cx="552.1" cy="181.9" rx="2.5" ry="2.5" fill="#1c1cf2"/><ellipse cx="552.1" cy="181.9" rx="0.70" ry="0.70" fill="#fff" opacity="0.45"/>
<ellipse cx="581.9" cy="181" rx="1" ry="1" fill="#1c1cf2"/>
<ellipse cx="550.8" cy="192.8" rx="3.5" ry="3" fill="#1c1cf2"/><ellipse cx="550.8" cy="192.8" rx="0.98" ry="0.84" fill="#fff" opacity="0.45"/>
<ellipse cx="561.5" cy="190" rx="1.5" ry="2.5" fill="#1c1cf2"/>
<ellipse cx="584.7" cy="190" rx="3" ry="3.5" fill="#1c1cf2"/><ellipse cx="584.7" cy="190" rx="0.84" ry="0.98" fill="#fff" opacity="0.45"/>
<ellipse cx="574.5" cy="196.2" rx="3.5" ry="3" fill="#1c1cf2"/><ellipse cx="574.5" cy="196.2" rx="0.98" ry="0.84" fill="#fff" opacity="0.45"/>
<ellipse cx="589.8" cy="199.6" rx="2.5" ry="3.5" fill="#1c1cf2"/><ellipse cx="589.8" cy="199.6" rx="0.70" ry="0.98" fill="#fff" opacity="0.45"/>
<ellipse cx="538.3" cy="204.2" rx="3" ry="2.5" fill="#1c1cf2"/><ellipse cx="538.3" cy="204.2" rx="0.84" ry="0.70" fill="#fff" opacity="0.45"/>
<ellipse cx="574" cy="209.2" rx="1.40" ry="2.40" fill="none" stroke="#1c1cf2" stroke-width="1.5"/>
<ellipse cx="587" cy="209.2" rx="4" ry="3.5" fill="#1c1cf2"/><ellipse cx="587" cy="209.2" rx="1.12" ry="0.98" fill="#fff" opacity="0.45"/>
<ellipse cx="584.1" cy="217.2" rx="0.8" ry="3" fill="#1c1cf2"/>
<ellipse cx="596.6" cy="210.4" rx="3.5" ry="3.5" fill="#1c1cf2"/><ellipse cx="596.6" cy="210.4" rx="0.98" ry="0.98" fill="#fff" opacity="0.45"/>
<ellipse cx="645" cy="238.1" rx="1.5" ry="1.5" fill="#1c1cf2"/>
<ellipse cx="651" cy="234.7" rx="1" ry="1" fill="#1c1cf2"/>
<ellipse cx="661.6" cy="232.4" rx="4.5" ry="2.8" fill="#1c1cf2"/><ellipse cx="661.6" cy="232.4" rx="1.26" ry="0.78" fill="#fff" opacity="0.45"/>
<ellipse cx="593" cy="29.2" rx="2" ry="3" fill="#c62a2a"/>
<ellipse cx="598.6" cy="30.5" rx="2" ry="2.5" fill="#c62a2a"/>
<ellipse cx="577.3" cy="39" rx="1.5" ry="2.5" fill="#c62a2a"/>
<ellipse cx="580.4" cy="46.2" rx="1.8" ry="2.2" fill="#c62a2a"/>
<ellipse cx="596" cy="77.5" rx="2" ry="3" fill="#c62a2a"/>
<ellipse cx="658.2" cy="63.5" rx="1.5" ry="3" fill="#c62a2a"/>
<ellipse cx="677.4" cy="63.9" rx="1.8" ry="3.5" fill="#c62a2a"/>
<ellipse cx="629.1" cy="75.8" rx="1.5" ry="3" fill="#c62a2a"/>
<ellipse cx="672.9" cy="74.7" rx="1.5" ry="3" fill="#c62a2a"/>
<ellipse cx="553" cy="109.1" rx="1.8" ry="3" fill="#c62a2a"/>
<ellipse cx="542.8" cy="118" rx="1.8" ry="2.5" fill="#c62a2a"/>
<ellipse cx="527.6" cy="123.3" rx="2" ry="2.5" fill="#c62a2a"/>
<ellipse cx="544" cy="143.7" rx="1.2" ry="2" fill="#c62a2a"/>
<ellipse cx="530.4" cy="146.5" rx="2" ry="2.5" fill="#c62a2a"/>
<ellipse cx="581.1" cy="89.4" rx="1.8" ry="3" fill="#c62a2a"/>
<ellipse cx="585.8" cy="97.8" rx="2" ry="3" fill="#c62a2a"/>
<ellipse cx="584.5" cy="117.1" rx="2.5" ry="2.5" fill="#c62a2a"/><ellipse cx="584.5" cy="117.1" rx="0.70" ry="0.70" fill="#fff" opacity="0.45"/>
<ellipse cx="588.1" cy="128.4" rx="1.8" ry="3" fill="#c62a2a"/>
<ellipse cx="603.9" cy="149.6" rx="2.5" ry="2.5" fill="#c62a2a"/><ellipse cx="603.9" cy="149.6" rx="0.70" ry="0.70" fill="#fff" opacity="0.45"/>
<ellipse cx="575.1" cy="144.2" rx="2" ry="2.5" fill="#c62a2a"/>
<ellipse cx="588.1" cy="149.9" rx="2" ry="3" fill="#c62a2a"/>
<ellipse cx="578.5" cy="154.4" rx="1.5" ry="3" fill="#c62a2a"/>
<ellipse cx="618" cy="93.3" rx="1.5" ry="2.5" fill="#c62a2a"/>
<ellipse cx="631.1" cy="96.1" rx="2" ry="2.5" fill="#c62a2a"/>
<ellipse cx="667.8" cy="93.3" rx="1.5" ry="2.5" fill="#c62a2a"/>
<ellipse cx="639.5" cy="113.1" rx="2.5" ry="3" fill="#c62a2a"/><ellipse cx="639.5" cy="113.1" rx="0.70" ry="0.84" fill="#fff" opacity="0.45"/>
<ellipse cx="622.6" cy="126.7" rx="1.5" ry="2.5" fill="#c62a2a"/>
<ellipse cx="648.6" cy="129.5" rx="2" ry="3" fill="#c62a2a"/>
<ellipse cx="663.3" cy="143.7" rx="1.5" ry="2.5" fill="#c62a2a"/>
<ellipse cx="490.6" cy="240" rx="1.5" ry="3" fill="#c62a2a"/>
<ellipse cx="537.2" cy="165.5" rx="2" ry="3" fill="#c62a2a"/>
<ellipse cx="559.8" cy="168.5" rx="2" ry="3" fill="#c62a2a"/>
<ellipse cx="576.8" cy="166.3" rx="2.5" ry="3" fill="#c62a2a"/><ellipse cx="576.8" cy="166.3" rx="0.70" ry="0.84" fill="#fff" opacity="0.45"/>
<ellipse cx="550.8" cy="192.8" rx="1.8" ry="2.8" fill="#c62a2a"/>
<ellipse cx="584.7" cy="190" rx="1.8" ry="2.5" fill="#c62a2a"/>
<ellipse cx="572.2" cy="196.2" rx="1.8" ry="3" fill="#c62a2a"/>
<ellipse cx="536.6" cy="204.2" rx="1.5" ry="2.5" fill="#c62a2a"/>
<ellipse cx="588.1" cy="209.8" rx="2" ry="3" fill="#c62a2a"/>
<ellipse cx="596" cy="209.2" rx="1.5" ry="2.5" fill="#c62a2a"/>
<ellipse cx="650" cy="235.8" rx="1.8" ry="3" fill="#c62a2a"/>
<ellipse cx="629.4" cy="72.4" rx="6.8" ry="8.5" fill="none" stroke="#000" stroke-width="2"/>
<ellipse cx="670.7" cy="73.5" rx="6.8" ry="8.5" fill="none" stroke="#000" stroke-width="2"/>
<ellipse cx="544" cy="143.7" rx="3.9" ry="5.7" fill="none" stroke="#000" stroke-width="2"/>
<ellipse cx="570.2" cy="160.4" rx="3.7" ry="5" fill="none" stroke="#000" stroke-width="2"/>
<ellipse cx="539.1" cy="164.8" rx="5.5" ry="6.9" fill="none" stroke="#000" stroke-width="2"/>
<ellipse cx="589.5" cy="94.4" rx="6" ry="10.5" fill="none" stroke="#000" stroke-width="2" transform="rotate(25 589.5 94.4)"/>
<ellipse cx="583.3" cy="127.5" rx="11.4" ry="7" fill="none" stroke="#000" stroke-width="2"/>
<ellipse cx="642.7" cy="111.6" rx="9" ry="6.2" fill="none" stroke="#000" stroke-width="2" transform="rotate(-15 642.7 111.6)"/>
<ellipse cx="647.3" cy="129.5" rx="8.5" ry="6.8" fill="none" stroke="#000" stroke-width="2"/>
<ellipse cx="663.3" cy="140.3" rx="6.8" ry="9.6" fill="none" stroke="#000" stroke-width="2"/>
<ellipse cx="599.6" cy="210.4" rx="8.5" ry="7" fill="none" stroke="#000" stroke-width="2"/>
<text class="ax" transform="translate(720.5,92.9) rotate(-90)" text-anchor="middle">115</text>
<text class="ax" transform="translate(720.5,143.6) rotate(-90)" text-anchor="middle">120</text>
<text class="ax" transform="translate(720.5,194.4) rotate(-90)" text-anchor="middle">125</text>
<g transform="translate(719.8,64.6) rotate(-90)" font-weight="bold" font-size="14.5"><text x="0">F</text><text x="9.3" font-size="10.5">1</text><text x="18.6" font-weight="normal">[</text><text x="23.4" textLength="33" lengthAdjust="spacingAndGlyphs">ppm</text><text x="56.6" font-weight="normal">]</text></g>
<text class="ax" x="493.6" y="276" text-anchor="middle">10</text>
<text class="ax" x="551.2" y="276" text-anchor="middle">9</text>
<text class="ax" x="608.8" y="276" text-anchor="middle">8</text>
<g transform="translate(629,273.8)" font-weight="bold" font-size="14.5"><text x="0">F</text><text x="9.3" font-size="10.5">2</text><text x="18.6" font-weight="normal">[</text><text x="23.4" textLength="33" lengthAdjust="spacingAndGlyphs">ppm</text><text x="56.6" font-weight="normal">]</text></g>
<text class="lb" x="627.1" y="57">Q65sc</text>
<text class="lb" x="554.7" y="80.2">G62</text>
<text class="lb" x="524.2" y="99.6">H78</text>
<text class="lb" x="656" y="109.2">R82</text>
<text class="lb" x="595" y="122.8">R89</text>
<text class="lb" x="662.7" y="127.3">L90</text>
<text class="lb" x="509.5" y="135">N80sc</text>
<text class="lb" x="503.6" y="173.2">V76</text>
<text class="lb" x="639.5" y="167.2">N80sc</text>
<text class="lb" x="615.9" y="219.1">D87</text>
<line x1="549.3" y1="112.3" x2="568.5" y2="148" stroke="#000" stroke-width="1.3"/>
<path d="M571.2,154.5 L563,148.6 L567.6,148.2 L570.3,144.5 Z" fill="#000"/>
<text x="28.8" y="285.6" class="pl">C</text>
<defs>
<pattern id="hs" x="0" y="307.3" width="20" height="7.22" patternUnits="userSpaceOnUse"><rect width="20" height="7.22" fill="#fff"/><rect y="0" width="20" height="3.4" fill="#7192d2"/></pattern>
<pattern id="hs2" x="0" y="310.4" width="20" height="7.27" patternUnits="userSpaceOnUse"><rect width="20" height="7.27" fill="#fff"/><rect y="0" width="20" height="1.4" fill="#7192d2"/></pattern>
<pattern id="vs" x="440.3" y="0" width="7.7" height="20" patternUnits="userSpaceOnUse"><rect width="7.7" height="20" fill="#fff"/><rect x="0" width="1.4" height="20" fill="#7192d2"/></pattern>
</defs>
<line x1="80.6" y1="440.8" x2="700.38" y2="440.8" stroke="#7a7a7a" stroke-width="1.3"/>
<line x1="80.60" y1="440.8" x2="80.60" y2="446.3" stroke="#8c8c8c" stroke-width="1"/>
<line x1="96.91" y1="440.8" x2="96.91" y2="446.3" stroke="#8c8c8c" stroke-width="1"/>
<line x1="113.22" y1="440.8" x2="113.22" y2="446.3" stroke="#8c8c8c" stroke-width="1"/>
<line x1="129.53" y1="440.8" x2="129.53" y2="446.3" stroke="#8c8c8c" stroke-width="1"/>
<line x1="145.84" y1="440.8" x2="145.84" y2="446.3" stroke="#8c8c8c" stroke-width="1"/>
<line x1="162.15" y1="440.8" x2="162.15" y2="446.3" stroke="#8c8c8c" stroke-width="1"/>
<line x1="178.46" y1="440.8" x2="178.46" y2="446.3" stroke="#8c8c8c" stroke-width="1"/>
<line x1="194.77" y1="440.8" x2="194.77" y2="446.3" stroke="#8c8c8c" stroke-width="1"/>
<line x1="211.08" y1="440.8" x2="211.08" y2="446.3" stroke="#8c8c8c" stroke-width="1"/>
<line x1="227.39" y1="440.8" x2="227.39" y2="446.3" stroke="#8c8c8c" stroke-width="1"/>
<line x1="243.70" y1="440.8" x2="243.70" y2="446.3" stroke="#8c8c8c" stroke-width="1"/>
<line x1="260.01" y1="440.8" x2="260.01" y2="446.3" stroke="#8c8c8c" stroke-width="1"/>
<line x1="276.32" y1="440.8" x2="276.32" y2="446.3" stroke="#8c8c8c" stroke-width="1"/>
<line x1="292.63" y1="440.8" x2="292.63" y2="446.3" stroke="#8c8c8c" stroke-width="1"/>
<line x1="308.94" y1="440.8" x2="308.94" y2="446.3" stroke="#8c8c8c" stroke-width="1"/>
<line x1="325.25" y1="440.8" x2="325.25" y2="446.3" stroke="#8c8c8c" stroke-width="1"/>
<line x1="341.56" y1="440.8" x2="341.56" y2="446.3" stroke="#8c8c8c" stroke-width="1"/>
<line x1="357.87" y1="440.8" x2="357.87" y2="446.3" stroke="#8c8c8c" stroke-width="1"/>
<line x1="374.18" y1="440.8" x2="374.18" y2="446.3" stroke="#8c8c8c" stroke-width="1"/>
<line x1="390.49" y1="440.8" x2="390.49" y2="446.3" stroke="#8c8c8c" stroke-width="1"/>
<line x1="406.80" y1="440.8" x2="406.80" y2="446.3" stroke="#8c8c8c" stroke-width="1"/>
<line x1="423.11" y1="440.8" x2="423.11" y2="446.3" stroke="#8c8c8c" stroke-width="1"/>
<line x1="439.42" y1="440.8" x2="439.42" y2="446.3" stroke="#8c8c8c" stroke-width="1"/>
<line x1="455.73" y1="440.8" x2="455.73" y2="446.3" stroke="#8c8c8c" stroke-width="1"/>
<line x1="472.04" y1="440.8" x2="472.04" y2="446.3" stroke="#8c8c8c" stroke-width="1"/>
<line x1="488.35" y1="440.8" x2="488.35" y2="446.3" stroke="#8c8c8c" stroke-width="1"/>
<line x1="504.66" y1="440.8" x2="504.66" y2="446.3" stroke="#8c8c8c" stroke-width="1"/>
<line x1="520.97" y1="440.8" x2="520.97" y2="446.3" stroke="#8c8c8c" stroke-width="1"/>
<line x1="537.28" y1="440.8" x2="537.28" y2="446.3" stroke="#8c8c8c" stroke-width="1"/>
<line x1="553.59" y1="440.8" x2="553.59" y2="446.3" stroke="#8c8c8c" stroke-width="1"/>
<line x1="569.90" y1="440.8" x2="569.90" y2="446.3" stroke="#8c8c8c" stroke-width="1"/>
<line x1="586.21" y1="440.8" x2="586.21" y2="446.3" stroke="#8c8c8c" stroke-width="1"/>
<line x1="602.52" y1="440.8" x2="602.52" y2="446.3" stroke="#8c8c8c" stroke-width="1"/>
<line x1="618.83" y1="440.8" x2="618.83" y2="446.3" stroke="#8c8c8c" stroke-width="1"/>
<line x1="635.14" y1="440.8" x2="635.14" y2="446.3" stroke="#8c8c8c" stroke-width="1"/>
<line x1="651.45" y1="440.8" x2="651.45" y2="446.3" stroke="#8c8c8c" stroke-width="1"/>
<line x1="667.76" y1="440.8" x2="667.76" y2="446.3" stroke="#8c8c8c" stroke-width="1"/>
<line x1="684.07" y1="440.8" x2="684.07" y2="446.3" stroke="#8c8c8c" stroke-width="1"/>
<line x1="700.38" y1="440.8" x2="700.38" y2="446.3" stroke="#8c8c8c" stroke-width="1"/>
<line x1="80.6" y1="306.8" x2="80.6" y2="440.8" stroke="#8c8c8c" stroke-width="1.2"/>
<line x1="74.5" y1="307.4" x2="80.6" y2="307.4" stroke="#404040" stroke-width="1.2"/>
<line x1="74.5" y1="352.1" x2="80.6" y2="352.1" stroke="#404040" stroke-width="1.2"/>
<line x1="74.5" y1="396.8" x2="80.6" y2="396.8" stroke="#404040" stroke-width="1.2"/>
<line x1="74.5" y1="441" x2="80.6" y2="441" stroke="#404040" stroke-width="1.2"/>
<text class="yl" x="62.8" y="313.9" text-anchor="end">0.15</text>
<text class="yl" x="62.8" y="359.2" text-anchor="end">0.1</text>
<text class="yl" x="62.8" y="403.8" text-anchor="end">0.05</text>
<text class="yl" x="62.8" y="448.6" text-anchor="end">0</text>
<rect x="80.60" y="306.8" width="16.31" height="134.00" fill="url(#hs)"/>
<rect x="96.91" y="405.8" width="16.31" height="35.00" fill="#fff"/>
<rect x="113.22" y="346.6" width="16.31" height="94.20" fill="#9af542"/>
<rect x="129.53" y="414.4" width="16.31" height="26.40" fill="#fff"/>
<rect x="145.84" y="414.4" width="16.31" height="26.40" fill="#fff"/>
<rect x="162.15" y="417.9" width="16.31" height="22.90" fill="#fff"/>
<rect x="178.46" y="414.4" width="16.31" height="26.40" fill="#fff"/>
<rect x="194.77" y="387" width="16.31" height="53.80" fill="#9af542"/>
<rect x="211.08" y="402.4" width="16.31" height="38.40" fill="#fff"/>
<rect x="227.39" y="414.2" width="16.31" height="26.60" fill="#fff"/>
<rect x="243.70" y="418.2" width="16.31" height="22.60" fill="#fff"/>
<rect x="260.01" y="435.3" width="16.31" height="5.50" fill="#f2f21e"/>
<rect x="276.32" y="435.3" width="16.31" height="5.50" fill="#f2f21e"/>
<rect x="292.63" y="399" width="16.31" height="41.80" fill="#fff"/>
<rect x="308.94" y="435.3" width="16.31" height="5.50" fill="#f2f21e"/>
<rect x="325.25" y="410.5" width="16.31" height="30.30" fill="#fff"/>
<rect x="341.56" y="416.2" width="16.31" height="24.60" fill="#fff"/>
<rect x="357.87" y="408" width="16.31" height="32.80" fill="#fff"/>
<rect x="374.18" y="435.3" width="16.31" height="5.50" fill="#f2f21e"/>
<rect x="390.49" y="423" width="16.31" height="17.80" fill="#fff"/>
<rect x="406.80" y="392.6" width="16.31" height="48.20" fill="#9af542"/>
<rect x="423.11" y="418.3" width="16.31" height="22.50" fill="#fff"/>
<rect x="439.42" y="306.8" width="16.31" height="134.00" fill="url(#vs)"/>
<rect x="455.73" y="422.4" width="16.31" height="18.40" fill="#fff"/>
<rect x="472.04" y="391" width="16.31" height="49.80" fill="#9af542"/>
<rect x="488.35" y="306.8" width="16.31" height="134.00" fill="url(#hs2)"/>
<rect x="504.66" y="430.7" width="16.31" height="10.10" fill="#fff"/>
<rect x="520.97" y="430.7" width="16.31" height="10.10" fill="#fff"/>
<rect x="537.28" y="385.2" width="16.31" height="55.60" fill="#9af542"/>
<rect x="553.59" y="430.5" width="16.31" height="10.30" fill="#fff"/>
<rect x="569.90" y="422.3" width="16.31" height="18.50" fill="#fff"/>
<rect x="586.21" y="430" width="16.31" height="10.80" fill="#fff"/>
<rect x="602.52" y="404.3" width="16.31" height="36.50" fill="#fff"/>
<rect x="618.83" y="392.6" width="16.31" height="48.20" fill="#8cf7f7"/>
<rect x="651.45" y="333" width="16.31" height="107.80" fill="#8cf7f7"/>
<rect x="667.76" y="414" width="16.31" height="26.80" fill="#fff"/>
<rect x="684.07" y="430.3" width="16.31" height="10.50" fill="#fff"/>
<path d="M80.60,306.8 V440.8 M96.91,306.8 V440.8" stroke="#000" stroke-width="1.8" fill="none"/>
<path d="M96.91,440.8 V405.8 H113.22 V440.8" stroke="#000" stroke-width="1.8" fill="none"/>
<path d="M113.22,440.8 V346.6 H129.53 V440.8" stroke="#000" stroke-width="1.8" fill="none"/>
<path d="M129.53,440.8 V414.4 H145.84 V440.8" stroke="#000" stroke-width="1.8" fill="none"/>
<path d="M145.84,440.8 V414.4 H162.15 V440.8" stroke="#000" stroke-width="1.8" fill="none"/>
<path d="M162.15,440.8 V417.9 H178.46 V440.8" stroke="#000" stroke-width="1.8" fill="none"/>
<path d="M178.46,440.8 V414.4 H194.77 V440.8" stroke="#000" stroke-width="1.8" fill="none"/>
<path d="M194.77,440.8 V387 H211.08 V440.8" stroke="#000" stroke-width="1.8" fill="none"/>
<path d="M211.08,440.8 V402.4 H227.39 V440.8" stroke="#000" stroke-width="1.8" fill="none"/>
<path d="M227.39,440.8 V414.2 H243.70 V440.8" stroke="#000" stroke-width="1.8" fill="none"/>
<path d="M243.70,440.8 V418.2 H260.01 V440.8" stroke="#000" stroke-width="1.8" fill="none"/>
<path d="M260.01,440.8 V435.3 H276.32 V440.8" stroke="#000" stroke-width="1.8" fill="none"/>
<path d="M276.32,440.8 V435.3 H292.63 V440.8" stroke="#000" stroke-width="1.8" fill="none"/>
<path d="M292.63,440.8 V399 H308.94 V440.8" stroke="#000" stroke-width="1.8" fill="none"/>
<path d="M308.94,440.8 V435.3 H325.25 V440.8" stroke="#000" stroke-width="1.8" fill="none"/>
<path d="M325.25,440.8 V410.5 H341.56 V440.8" stroke="#000" stroke-width="1.8" fill="none"/>
<path d="M341.56,440.8 V416.2 H357.87 V440.8" stroke="#000" stroke-width="1.8" fill="none"/>
<path d="M357.87,440.8 V408 H374.18 V440.8" stroke="#000" stroke-width="1.8" fill="none"/>
<path d="M374.18,440.8 V435.3 H390.49 V440.8" stroke="#000" stroke-width="1.8" fill="none"/>
<path d="M390.49,440.8 V423 H406.80 V440.8" stroke="#000" stroke-width="1.8" fill="none"/>
<path d="M406.80,440.8 V392.6 H423.11 V440.8" stroke="#000" stroke-width="1.8" fill="none"/>
<path d="M423.11,440.8 V418.3 H439.42 V440.8" stroke="#000" stroke-width="1.8" fill="none"/>
<path d="M439.42,306.8 V440.8 M455.73,306.8 V440.8" stroke="#000" stroke-width="1.8" fill="none"/>
<path d="M455.73,440.8 V422.4 H472.04 V440.8" stroke="#000" stroke-width="1.8" fill="none"/>
<path d="M472.04,440.8 V391 H488.35 V440.8" stroke="#000" stroke-width="1.8" fill="none"/>
<path d="M488.35,306.8 V440.8 M504.66,306.8 V440.8" stroke="#000" stroke-width="1.8" fill="none"/>
<path d="M504.66,440.8 V430.7 H520.97 V440.8" stroke="#000" stroke-width="1.8" fill="none"/>
<path d="M520.97,440.8 V430.7 H537.28 V440.8" stroke="#000" stroke-width="1.8" fill="none"/>
<path d="M537.28,440.8 V385.2 H553.59 V440.8" stroke="#000" stroke-width="1.8" fill="none"/>
<path d="M553.59,440.8 V430.5 H569.90 V440.8" stroke="#000" stroke-width="1.8" fill="none"/>
<path d="M569.90,440.8 V422.3 H586.21 V440.8" stroke="#000" stroke-width="1.8" fill="none"/>
<path d="M586.21,440.8 V430 H602.52 V440.8" stroke="#000" stroke-width="1.8" fill="none"/>
<path d="M602.52,440.8 V404.3 H618.83 V440.8" stroke="#000" stroke-width="1.8" fill="none"/>
<path d="M618.83,440.8 V392.6 H635.14 V440.8" stroke="#000" stroke-width="1.8" fill="none"/>
<path d="M651.45,440.8 V333 H667.76 V440.8" stroke="#000" stroke-width="1.8" fill="none"/>
<path d="M667.76,440.8 V414 H684.07 V440.8" stroke="#000" stroke-width="1.8" fill="none"/>
<path d="M684.07,440.8 V430.3 H700.38 V440.8" stroke="#000" stroke-width="1.8" fill="none"/>
<line x1="96.3" y1="304.8" x2="700.8" y2="304.8" stroke="#000" stroke-width="1.6"/>
<line x1="87" y1="395.4" x2="700.5" y2="395.4" stroke="#000" stroke-width="1.6" stroke-dasharray="7.2 5.5"/>
<text class="xl" transform="translate(97.45,454.4) rotate(-90)" text-anchor="end">L59</text>
<text class="xl" transform="translate(130.07,454.4) rotate(-90)" text-anchor="end">G62</text>
<text class="xl" transform="translate(162.69,454.4) rotate(-90)" text-anchor="end">W63sc</text>
<text class="xl" transform="translate(195.31,454.4) rotate(-90)" text-anchor="end">Q65</text>
<text class="xl" transform="translate(227.93,454.4) rotate(-90)" text-anchor="end">E66</text>
<text class="xl" transform="translate(260.56,454.4) rotate(-90)" text-anchor="end">D68</text>
<text class="xl" transform="translate(293.17,454.4) rotate(-90)" text-anchor="end">N70</text>
<text class="xl" transform="translate(325.79,454.4) rotate(-90)" text-anchor="end">G71</text>
<text class="xl" transform="translate(358.41,454.4) rotate(-90)" text-anchor="end">Q72sc</text>
<text class="xl" transform="translate(391.03,454.4) rotate(-90)" text-anchor="end">F74</text>
<text class="xl" transform="translate(423.65,454.4) rotate(-90)" text-anchor="end">V76</text>
<text class="xl" transform="translate(456.27,454.4) rotate(-90)" text-anchor="end">H78</text>
<text class="xl" transform="translate(488.89,454.4) rotate(-90)" text-anchor="end">N80</text>
<text class="xl" transform="translate(521.51,454.4) rotate(-90)" text-anchor="end">N80sc</text>
<text class="xl" transform="translate(554.13,454.4) rotate(-90)" text-anchor="end">R82</text>
<text class="xl" transform="translate(586.75,454.4) rotate(-90)" text-anchor="end">T84</text>
<text class="xl" transform="translate(619.38,454.4) rotate(-90)" text-anchor="end">L86</text>
<text class="xl" transform="translate(652.00,454.4) rotate(-90)" text-anchor="end">P88</text>
<text class="xl" transform="translate(684.62,454.4) rotate(-90)" text-anchor="end">L90</text>
<text class="yt" transform="translate(17.3,378.6) rotate(-90)" text-anchor="middle">&#916;&#948; (ppm)</text>
<text class="yt" x="405.5" y="530" text-anchor="middle">Residue (WW2 of WWOX)</text>
<text x="27.5" y="591" class="pl">D</text>
<defs>
<radialGradient id="sw" cx="0.36" cy="0.32" r="0.72"><stop offset="0" stop-color="#ffffff"/><stop offset="0.4" stop-color="#f2f2f2"/><stop offset="0.8" stop-color="#b8b8b8"/><stop offset="1" stop-color="#7c7c7c"/></radialGradient>
<radialGradient id="sg" cx="0.36" cy="0.32" r="0.72"><stop offset="0" stop-color="#b4ff7a"/><stop offset="0.4" stop-color="#74e02c"/><stop offset="0.8" stop-color="#48a816"/><stop offset="1" stop-color="#2a6e08"/></radialGradient>
<radialGradient id="sy" cx="0.36" cy="0.32" r="0.72"><stop offset="0" stop-color="#ffffa0"/><stop offset="0.4" stop-color="#f0f024"/><stop offset="0.8" stop-color="#c2c20a"/><stop offset="1" stop-color="#7c7c00"/></radialGradient>
<radialGradient id="sb" cx="0.36" cy="0.32" r="0.72"><stop offset="0" stop-color="#6464ff"/><stop offset="0.4" stop-color="#1414e4"/><stop offset="0.8" stop-color="#0000a4"/><stop offset="1" stop-color="#00005c"/></radialGradient>
<radialGradient id="sc" cx="0.36" cy="0.32" r="0.72"><stop offset="0" stop-color="#d4ffff"/><stop offset="0.4" stop-color="#80e4ea"/><stop offset="0.8" stop-color="#4cb0bc"/><stop offset="1" stop-color="#2a7c88"/></radialGradient>
<radialGradient id="sf" cx="0.36" cy="0.32" r="0.72"><stop offset="0" stop-color="#b0f080"/><stop offset="0.5" stop-color="#8ad85a"/><stop offset="1" stop-color="#5aa83a"/></radialGradient>
<linearGradient id="us" x1="160" y1="0" x2="300" y2="0" gradientUnits="userSpaceOnUse">
 <stop offset="0" stop-color="#d8d8d8"/><stop offset="0.1" stop-color="#e2e2e2"/><stop offset="0.11" stop-color="#e6e620"/><stop offset="0.36" stop-color="#e2e21c"/>
 <stop offset="0.37" stop-color="#e8e8e8"/><stop offset="0.58" stop-color="#dcdcdc"/><stop offset="0.6" stop-color="#6ccc2c"/><stop offset="1" stop-color="#4aa81a"/></linearGradient>
<linearGradient id="usd" x1="160" y1="0" x2="300" y2="0" gradientUnits="userSpaceOnUse">
 <stop offset="0" stop-color="#a0a0a0"/><stop offset="0.1" stop-color="#a0a0a0"/><stop offset="0.11" stop-color="#a8a810"/><stop offset="0.36" stop-color="#a8a810"/>
 <stop offset="0.37" stop-color="#a0a0a0"/><stop offset="0.58" stop-color="#9a9a9a"/><stop offset="0.6" stop-color="#3c8a14"/><stop offset="1" stop-color="#2e7010"/></linearGradient>
<linearGradient id="ls" x1="0" y1="670" x2="0" y2="697" gradientUnits="userSpaceOnUse">
 <stop offset="0" stop-color="#cfcfcf"/><stop offset="0.3" stop-color="#e8e8e8"/><stop offset="0.6" stop-color="#ffffff"/><stop offset="1" stop-color="#f0f0f0"/></linearGradient>
<linearGradient id="rs" x1="0" y1="655" x2="0" y2="668" gradientUnits="userSpaceOnUse">
 <stop offset="0" stop-color="#e0e0e0"/><stop offset="0.5" stop-color="#d0d0d0"/><stop offset="0.55" stop-color="#8a8a8a"/><stop offset="1" stop-color="#6a6a6a"/></linearGradient>
</defs>
<circle cx="92.8" cy="655.5" r="6" fill="url(#sy)" stroke="#141414" stroke-width="0.9"/>
<circle cx="90.7" cy="661.4" r="5" fill="url(#sy)" stroke="#141414" stroke-width="0.9"/>
<g fill="none" stroke-linecap="round" stroke-linejoin="round"><path d="M84,658.5 C86,666 93,669 100,668 C105,667 108,664 110,661" stroke="#5a5a00" stroke-width="5.7"/><path d="M84,658.5 C86,666 93,669 100,668 C105,667 108,664 110,661" stroke="#c4c410" stroke-width="4.2"/><path d="M84,658.5 C86,666 93,669 100,668 C105,667 108,664 110,661" stroke="#f4f43a" stroke-width="1.89" transform="translate(-0.5,-0.7)"/></g>
<g fill="none" stroke-linecap="round" stroke-linejoin="round"><path d="M77.6,637.5 C75.5,644 77,652 83,656 C89,659.5 97,659.8 106,659" stroke="#5a5a00" stroke-width="5.7"/><path d="M77.6,637.5 C75.5,644 77,652 83,656 C89,659.5 97,659.8 106,659" stroke="#c4c410" stroke-width="4.2"/><path d="M77.6,637.5 C75.5,644 77,652 83,656 C89,659.5 97,659.8 106,659" stroke="#f4f43a" stroke-width="1.89" transform="translate(-0.5,-0.7)"/></g>
<g fill="none" stroke-linecap="round" stroke-linejoin="round"><path d="M113,645 C119,641 128,640.5 136,643 C141,645 144,648 147,652" stroke="#3a3a3a" stroke-width="6.1"/><path d="M113,645 C119,641 128,640.5 136,643 C141,645 144,648 147,652" stroke="#bcbcbc" stroke-width="4.6"/><path d="M113,645 C119,641 128,640.5 136,643 C141,645 144,648 147,652" stroke="#fbfbfb" stroke-width="2.07" transform="translate(-0.5,-0.7)"/></g>
<g fill="none" stroke-linecap="round" stroke-linejoin="round"><path d="M114,656.5 C121,655.5 130,656 135,658 C137.5,659.5 139,662 140,664" stroke="#3a3a3a" stroke-width="6.1"/><path d="M114,656.5 C121,655.5 130,656 135,658 C137.5,659.5 139,662 140,664" stroke="#bcbcbc" stroke-width="4.6"/><path d="M114,656.5 C121,655.5 130,656 135,658 C137.5,659.5 139,662 140,664" stroke="#fbfbfb" stroke-width="2.07" transform="translate(-0.5,-0.7)"/></g>
<g fill="none" stroke-linecap="round" stroke-linejoin="round"><path d="M141,670 C142,677 147,681 155,683.5 C159,684.5 163,684.5 166,684.5" stroke="#3a3a3a" stroke-width="6.1"/><path d="M141,670 C142,677 147,681 155,683.5 C159,684.5 163,684.5 166,684.5" stroke="#bcbcbc" stroke-width="4.6"/><path d="M141,670 C142,677 147,681 155,683.5 C159,684.5 163,684.5 166,684.5" stroke="#fbfbfb" stroke-width="2.07" transform="translate(-0.5,-0.7)"/></g>
<g fill="none" stroke-linecap="round" stroke-linejoin="round"><path d="M150,658 L161,659" stroke="#3a3a3a" stroke-width="6.1"/><path d="M150,658 L161,659" stroke="#bcbcbc" stroke-width="4.6"/><path d="M150,658 L161,659" stroke="#fbfbfb" stroke-width="2.07" transform="translate(-0.5,-0.7)"/></g>
<path d="M191,600 C186,596 196,592 206,591.5 C216,591 226,593 234,595 L234,597.5 C226,596 216,595 210,596 C200,597 194,600 197,602 C202,604.5 209,604 214,603 Z" fill="#ececec" stroke="#333" stroke-width="0.8"/>
<circle cx="206.2" cy="595.2" r="7.6" fill="url(#sw)" stroke="#141414" stroke-width="0.9"/>
<g fill="none" stroke-linecap="round" stroke-linejoin="round"><path d="M216,603 L218,606.5" stroke="#2a2a2a" stroke-width="4.1"/><path d="M216,603 L218,606.5" stroke="#7a7a7a" stroke-width="2.6"/><path d="M216,603 L218,606.5" stroke="#b0b0b0" stroke-width="1.17" transform="translate(-0.5,-0.7)"/></g>
<g fill="none" stroke-linecap="round" stroke-linejoin="round"><path d="M224,619 C228,621 233,622 238,622" stroke="#1a5a64" stroke-width="4.5"/><path d="M224,619 C228,621 233,622 238,622" stroke="#50b8c4" stroke-width="3.0"/><path d="M224,619 C228,621 233,622 238,622" stroke="#a8f4f8" stroke-width="1.35" transform="translate(-0.5,-0.7)"/></g>
<circle cx="220.7" cy="610.9" r="7.5" fill="url(#sc)" stroke="#141414" stroke-width="0.9"/>
<path d="M229,599 C231,596 236,595.5 240.5,595.5 L241,624.5 C236,624 231,619 229.5,612 Z" fill="#4a4a4a" stroke="#1a1a1a" stroke-width="0.8"/>
<path d="M235.5,595.8 L240.5,595.2 L241.5,624.8 L238.5,624.8 Z" fill="#2e2e2e"/>
<path d="M240.5,595.2 L245,595 L247.6,625.3 L241.5,624.8 Z" fill="#c8c8c8" stroke="#1a1a1a" stroke-width="0.8"/>
<g fill="none" stroke-linecap="round" stroke-linejoin="round"><path d="M243.4,610.2 L250.3,610.9" stroke="#2a2a2a" stroke-width="4.1"/><path d="M243.4,610.2 L250.3,610.9" stroke="#7a7a7a" stroke-width="2.6"/><path d="M243.4,610.2 L250.3,610.9" stroke="#b0b0b0" stroke-width="1.17" transform="translate(-0.5,-0.7)"/></g>
<g fill="none" stroke-linecap="round" stroke-linejoin="round"><path d="M262,616.5 C268,617 274,619 276.5,622 C278,625 277.5,628 277,631" stroke="#3a3a3a" stroke-width="5.7"/><path d="M262,616.5 C268,617 274,619 276.5,622 C278,625 277.5,628 277,631" stroke="#bcbcbc" stroke-width="4.2"/><path d="M262,616.5 C268,617 274,619 276.5,622 C278,625 277.5,628 277,631" stroke="#fbfbfb" stroke-width="1.89" transform="translate(-0.5,-0.7)"/></g>
<circle cx="270.3" cy="610.9" r="6.5" fill="url(#sw)" stroke="#141414" stroke-width="0.9"/>
<circle cx="257.9" cy="604" r="8.8" fill="url(#sw)" stroke="#141414" stroke-width="0.9"/>
<circle cx="254.5" cy="619.1" r="7.6" fill="url(#sw)" stroke="#141414" stroke-width="0.9"/>
<circle cx="269.7" cy="623.5" r="6.8" fill="url(#sc)" stroke="#141414" stroke-width="0.9"/>
<g fill="none" stroke-linecap="round" stroke-linejoin="round"><path d="M266.9,602 C272,600 280,597.5 288,597.5 C294,598 298,602 299,606" stroke="#1f5a08" stroke-width="5.1"/><path d="M266.9,602 C272,600 280,597.5 288,597.5 C294,598 298,602 299,606" stroke="#4cb01c" stroke-width="3.6"/><path d="M266.9,602 C272,600 280,597.5 288,597.5 C294,598 298,602 299,606" stroke="#8ef04e" stroke-width="1.62" transform="translate(-0.5,-0.7)"/></g>
<g fill="none" stroke-linecap="round" stroke-linejoin="round"><path d="M293.5,589.5 L298.5,587.8" stroke="#2a2a2a" stroke-width="4.1"/><path d="M293.5,589.5 L298.5,587.8" stroke="#7a7a7a" stroke-width="2.6"/><path d="M293.5,589.5 L298.5,587.8" stroke="#b0b0b0" stroke-width="1.17" transform="translate(-0.5,-0.7)"/></g>
<circle cx="287.7" cy="590.6" r="7.2" fill="url(#sw)" stroke="#141414" stroke-width="0.9"/>
<g fill="none" stroke-linecap="round" stroke-linejoin="round"><path d="M301,613 C306,620 315,624 324,623.5 C332,622 338,617 344,613 C350,609 356,605 362,605.5 C366,606 370,608 374,610" stroke="#3a3a3a" stroke-width="6.1"/><path d="M301,613 C306,620 315,624 324,623.5 C332,622 338,617 344,613 C350,609 356,605 362,605.5 C366,606 370,608 374,610" stroke="#bcbcbc" stroke-width="4.6"/><path d="M301,613 C306,620 315,624 324,623.5 C332,622 338,617 344,613 C350,609 356,605 362,605.5 C366,606 370,608 374,610" stroke="#fbfbfb" stroke-width="2.07" transform="translate(-0.5,-0.7)"/></g>
<g fill="none" stroke-linecap="round" stroke-linejoin="round"><path d="M340,615 C346,611 352,606 358,605 C362,604.6 366,606 372,608.5" stroke="#1f5a08" stroke-width="5.7"/><path d="M340,615 C346,611 352,606 358,605 C362,604.6 366,606 372,608.5" stroke="#4cb01c" stroke-width="4.2"/><path d="M340,615 C346,611 352,606 358,605 C362,604.6 366,606 372,608.5" stroke="#8ef04e" stroke-width="1.89" transform="translate(-0.5,-0.7)"/></g>
<g fill="none" stroke-linecap="round" stroke-linejoin="round"><path d="M357,607 C366,612 369.5,620 369.5,630" stroke="#1f5a08" stroke-width="5.7"/><path d="M357,607 C366,612 369.5,620 369.5,630" stroke="#4cb01c" stroke-width="4.2"/><path d="M357,607 C366,612 369.5,620 369.5,630" stroke="#8ef04e" stroke-width="1.89" transform="translate(-0.5,-0.7)"/></g>
<g fill="none" stroke-linecap="round" stroke-linejoin="round"><path d="M369.5,630 C369.5,646 366,658 356,664 C348,668 340,669 326,669" stroke="#3a3a3a" stroke-width="6.1"/><path d="M369.5,630 C369.5,646 366,658 356,664 C348,668 340,669 326,669" stroke="#bcbcbc" stroke-width="4.6"/><path d="M369.5,630 C369.5,646 366,658 356,664 C348,668 340,669 326,669" stroke="#fbfbfb" stroke-width="2.07" transform="translate(-0.5,-0.7)"/></g>
<g fill="none" stroke-linecap="round" stroke-linejoin="round"><path d="M348,667 C340,668.5 330,669 318,668" stroke="#00004a" stroke-width="5.7"/><path d="M348,667 C340,668.5 330,669 318,668" stroke="#0000b0" stroke-width="4.2"/><path d="M348,667 C340,668.5 330,669 318,668" stroke="#3c3cff" stroke-width="1.89" transform="translate(-0.5,-0.7)"/></g>
<circle cx="299" cy="609.5" r="8.3" fill="url(#sg)" stroke="#141414" stroke-width="0.9"/>
<circle cx="331" cy="620.3" r="8.5" fill="url(#sw)" stroke="#141414" stroke-width="0.9"/>
<circle cx="373.8" cy="610.2" r="8.5" fill="url(#sb)" stroke="#141414" stroke-width="0.9"/>
<circle cx="357" cy="627.6" r="8.5" fill="url(#sg)" stroke="#141414" stroke-width="0.9"/>
<circle cx="346.6" cy="657.6" r="8.5" fill="url(#sw)" stroke="#141414" stroke-width="0.9"/>
<g fill="none" stroke-linecap="round" stroke-linejoin="round"><path d="M294,650 C302,651 308,654 313,661" stroke="#3a3a3a" stroke-width="6.1"/><path d="M294,650 C302,651 308,654 313,661" stroke="#bcbcbc" stroke-width="4.6"/><path d="M294,650 C302,651 308,654 313,661" stroke="#fbfbfb" stroke-width="2.07" transform="translate(-0.5,-0.7)"/></g>
<path d="M194,697 C214,699 232,701 250,701 L250,706 C232,706 210,704 196,702 Z" fill="#666" stroke="#222" stroke-width="0.6"/>
<path d="M289.7,669.7 C268,673 246,676.4 224,677 C210,677.4 198,677.2 190.3,677.5 L189.5,674.5 L155,683 L193.6,697 L192.5,695.8 C215,696 245,695 265.4,694 C276,693 284,690 291.9,687.4 Z" fill="url(#ls)" stroke="#222" stroke-width="0.9"/>
<path d="M283,670.8 L289.7,669.7 L291.9,687.4 L285.5,689 Z" fill="#7c7c7c" stroke="#222" stroke-width="0.6"/>
<g fill="none" stroke-linecap="round" stroke-linejoin="round"><path d="M212,705 L212,714" stroke="#2a2a2a" stroke-width="5.1"/><path d="M212,705 L212,714" stroke="#7a7a7a" stroke-width="3.6"/><path d="M212,705 L212,714" stroke="#b0b0b0" stroke-width="1.62" transform="translate(-0.5,-0.7)"/></g>
<g fill="none" stroke-linecap="round" stroke-linejoin="round"><path d="M212,711 L212.3,715" stroke="#3a0000" stroke-width="5.1"/><path d="M212,711 L212.3,715" stroke="#a02020" stroke-width="3.6"/><path d="M212,711 L212.3,715" stroke="#e05050" stroke-width="1.62" transform="translate(-0.5,-0.7)"/></g>
<path d="M199,699.5 L226,698 L228,704 L203,705.5 Z" fill="#555" stroke="#222" stroke-width="0.6"/>
<circle cx="206.9" cy="689.6" r="6.5" fill="url(#sw)" stroke="#141414" stroke-width="0.9" opacity="0.35"/>
<path d="M160.5,649.9 C180,647 200,645.5 212.4,645 C235,643.6 250,643 263.2,642.8 L263.2,636.6 L298.5,654.3 L267.6,665.3 L266.5,662 C235,663.5 200,665.5 161.6,667.5 Z" fill="url(#us)" stroke="#222" stroke-width="0.9"/>
<path d="M161.4,664 C200,662 235,660 266.8,658.6 L266.5,662 C235,663.5 200,665.5 161.6,667.5 Z" fill="url(#usd)"/>
<path d="M263.2,636.6 L276.5,643.5 L274,644.5 L263.2,639.5 Z" fill="#a4f070"/>
<circle cx="116.2" cy="648.3" r="7" fill="url(#sw)" stroke="#141414" stroke-width="0.9"/>
<circle cx="147.9" cy="653.8" r="7.5" fill="url(#sw)" stroke="#141414" stroke-width="0.9"/>
<circle cx="140.3" cy="664.8" r="8" fill="url(#sw)" stroke="#141414" stroke-width="0.9"/>
<circle cx="87.9" cy="642.8" r="7.6" fill="url(#sy)" stroke="#141414" stroke-width="0.9"/>
<circle cx="106.6" cy="653.1" r="8" fill="url(#sy)" stroke="#141414" stroke-width="0.9"/>
<path d="M212,641.5 A7,7 0 0 1 226,641.5 Z" fill="url(#sw)" stroke="#1e1e1e" stroke-width="0.8"/>
<circle cx="194.3" cy="643.7" r="8.6" fill="url(#sy)" stroke="#141414" stroke-width="0.9"/>
<circle cx="250.4" cy="653.2" r="8.3" fill="url(#sg)" stroke="#141414" stroke-width="0.9"/>
<circle cx="286.3" cy="646.6" r="8" fill="url(#sw)" stroke="#141414" stroke-width="0.9"/>
<circle cx="166" cy="688.8" r="8.3" fill="url(#sw)" stroke="#141414" stroke-width="0.9"/>
<circle cx="238.9" cy="702.5" r="8" fill="url(#sw)" stroke="#141414" stroke-width="0.9"/>
<g fill="none" stroke-linecap="round" stroke-linejoin="round"><path d="M266.5,704 L262.5,709.5" stroke="#2a2a2a" stroke-width="4.7"/><path d="M266.5,704 L262.5,709.5" stroke="#7a7a7a" stroke-width="3.2"/><path d="M266.5,704 L262.5,709.5" stroke="#b0b0b0" stroke-width="1.44" transform="translate(-0.5,-0.7)"/></g>
<circle cx="270.9" cy="699.5" r="6.5" fill="url(#sb)" stroke="#141414" stroke-width="0.9"/>
<circle cx="274.2" cy="688.5" r="8.3" fill="url(#sw)" stroke="#141414" stroke-width="0.9"/>
<g fill="none" stroke-linecap="round" stroke-linejoin="round"><path d="M312,676 C322,682 332,688 342,695" stroke="#1f5a08" stroke-width="5.7"/><path d="M312,676 C322,682 332,688 342,695" stroke="#4cb01c" stroke-width="4.2"/><path d="M312,676 C322,682 332,688 342,695" stroke="#8ef04e" stroke-width="1.89" transform="translate(-0.5,-0.7)"/></g>
<g fill="none" stroke-linecap="round" stroke-linejoin="round"><path d="M293,679 L303,679" stroke="#3a3a3a" stroke-width="6.5"/><path d="M293,679 L303,679" stroke="#bcbcbc" stroke-width="5"/><path d="M293,679 L303,679" stroke="#fbfbfb" stroke-width="2.25" transform="translate(-0.5,-0.7)"/></g>
<circle cx="308.5" cy="681.6" r="7.5" fill="url(#sw)" stroke="#141414" stroke-width="0.9"/>
<circle cx="316.6" cy="665.9" r="8.5" fill="url(#sb)" stroke="#141414" stroke-width="0.9"/>
<circle cx="335.2" cy="694" r="8" fill="url(#sg)" stroke="#141414" stroke-width="0.9"/>
<text class="ld" x="43.6" y="639.2">E69</text>
<text class="ld" x="43.6" y="657.4">N70</text>
<text class="ld" x="43.6" y="676.8">G71</text>
<text class="ld" x="157.3" y="641.6">F74</text>
<text class="ld" x="183" y="621.2">D87</text>
<text class="ld" x="297.8" y="584.5">C’</text>
<text class="ld" x="319" y="599.2">R82</text>
<text class="ld" x="283.2" y="635.1">R89</text>
<text class="ld" x="320.3" y="647.4">H78</text>
<text class="ld" x="388" y="638.0">N80</text>
<text class="ld" x="210.4" y="659.7">V76</text>
<text class="ld" x="352.8" y="703.4">G62</text>
<text class="ld" x="175" y="724.2">Q65</text>
<text class="ld" x="244.9" y="723.2">N’</text>
<text class="ld" x="275.4" y="723.2">L59</text>
<g fill="none" stroke-linecap="round" stroke-linejoin="round"><path d="M604.5,604.7 C609,599.5 618,598 634,597" stroke="#1f5a08" stroke-width="5.3"/><path d="M604.5,604.7 C609,599.5 618,598 634,597" stroke="#4cb01c" stroke-width="3.8"/><path d="M604.5,604.7 C609,599.5 618,598 634,597" stroke="#8ef04e" stroke-width="1.71" transform="translate(-0.5,-0.7)"/></g>
<g fill="none" stroke-linecap="round" stroke-linejoin="round"><path d="M604,604 C600,612 598,618 596,624" stroke="#1f5a08" stroke-width="5.9"/><path d="M604,604 C600,612 598,618 596,624" stroke="#4cb01c" stroke-width="4.4"/><path d="M604,604 C600,612 598,618 596,624" stroke="#8ef04e" stroke-width="1.98" transform="translate(-0.5,-0.7)"/></g>
<circle cx="596.2" cy="623" r="10.8" fill="url(#sf)" stroke="#141414" stroke-width="0.9" opacity="0.9"/>
<g fill="none" stroke-linecap="round" stroke-linejoin="round"><path d="M593,632 C590,638 585,644 579.5,648" stroke="#3a3a3a" stroke-width="6.3"/><path d="M593,632 C590,638 585,644 579.5,648" stroke="#bcbcbc" stroke-width="4.8"/><path d="M593,632 C590,638 585,644 579.5,648" stroke="#fbfbfb" stroke-width="2.16" transform="translate(-0.5,-0.7)"/></g>
<circle cx="567" cy="649.8" r="9" fill="url(#sw)" stroke="#141414" stroke-width="0.9" opacity="0.85"/>
<path d="M615.3,658.1 L646.8,658.6 L646.8,667.5 L615.3,664.2 Z" fill="url(#rs)" stroke="#333" stroke-width="0.6"/>
<path d="M637.4,642.1 L646.8,634.3 L646.8,667.5 L640,666 Z" fill="#6ee030"/>
<path d="M639.6,658.4 L646.8,658.6 L646.8,667.5 L639.6,666.6 Z" fill="#3c8a14"/>
<circle cx="629.5" cy="648.5" r="9.3" fill="url(#sw)" stroke="#141414" stroke-width="0.9"/>
<g fill="none" stroke-linecap="round" stroke-linejoin="round"><path d="M534,655 C532,662 531,668 531,674" stroke="#1f5a08" stroke-width="6.1"/><path d="M534,655 C532,662 531,668 531,674" stroke="#4cb01c" stroke-width="4.6"/><path d="M534,655 C532,662 531,668 531,674" stroke="#8ef04e" stroke-width="2.07" transform="translate(-0.5,-0.7)"/></g>
<g fill="none" stroke-linecap="round" stroke-linejoin="round"><path d="M531,673 C530,682 531,692 538,700 C545,706 552,709 562,709.4" stroke="#3a3a3a" stroke-width="6.9"/><path d="M531,673 C530,682 531,692 538,700 C545,706 552,709 562,709.4" stroke="#bcbcbc" stroke-width="5.4"/><path d="M531,673 C530,682 531,692 538,700 C545,706 552,709 562,709.4" stroke="#fbfbfb" stroke-width="2.43" transform="translate(-0.5,-0.7)"/></g>
<g fill="none" stroke-linecap="round" stroke-linejoin="round"><path d="M564,709.4 C574,708 586,703 596,697.8" stroke="#00004a" stroke-width="6.3"/><path d="M564,709.4 C574,708 586,703 596,697.8" stroke="#0000b0" stroke-width="4.8"/><path d="M564,709.4 C574,708 586,703 596,697.8" stroke="#3c3cff" stroke-width="2.16" transform="translate(-0.5,-0.7)"/></g>
<g fill="none" stroke-linecap="round" stroke-linejoin="round"><path d="M602.6,680 C602,672 603,666 608,662.5" stroke="#3a3a3a" stroke-width="6.3"/><path d="M602.6,680 C602,672 603,666 608,662.5" stroke="#bcbcbc" stroke-width="4.8"/><path d="M602.6,680 C602,672 603,666 608,662.5" stroke="#fbfbfb" stroke-width="2.16" transform="translate(-0.5,-0.7)"/></g>
<circle cx="564.5" cy="695.6" r="10.8" fill="url(#sw)" stroke="#141414" stroke-width="0.9"/>
<circle cx="602.4" cy="689.5" r="11" fill="url(#sb)" stroke="#141414" stroke-width="0.9"/>
<g fill="none" stroke-linecap="round" stroke-linejoin="round"><path d="M574.4,653.5 L587.7,646.5 L597.6,646.5 L611,659" stroke="#3a3a3a" stroke-width="6.3"/><path d="M574.4,653.5 L587.7,646.5 L597.6,646.5 L611,659" stroke="#bcbcbc" stroke-width="4.8"/><path d="M574.4,653.5 L587.7,646.5 L597.6,646.5 L611,659" stroke="#fbfbfb" stroke-width="2.16" transform="translate(-0.5,-0.7)"/></g>
<g fill="none" stroke-linecap="round" stroke-linejoin="round"><path d="M574.4,655 L573,674" stroke="#3a0000" stroke-width="6.3"/><path d="M574.4,655 L573,674" stroke="#a02020" stroke-width="4.8"/><path d="M574.4,655 L573,674" stroke="#e05050" stroke-width="2.16" transform="translate(-0.5,-0.7)"/></g>
<g fill="none" stroke-linecap="round" stroke-linejoin="round"><path d="M574.4,655 L574.4,661" stroke="#3a3a3a" stroke-width="6.3"/><path d="M574.4,655 L574.4,661" stroke="#bcbcbc" stroke-width="4.8"/><path d="M574.4,655 L574.4,661" stroke="#fbfbfb" stroke-width="2.16" transform="translate(-0.5,-0.7)"/></g>
<g fill="none" stroke-linecap="round" stroke-linejoin="round"><path d="M562,640.5 L573,648.5" stroke="#3a0000" stroke-width="6.3"/><path d="M562,640.5 L573,648.5" stroke="#a02020" stroke-width="4.8"/><path d="M562,640.5 L573,648.5" stroke="#e05050" stroke-width="2.16" transform="translate(-0.5,-0.7)"/></g>
<g fill="none" stroke-linecap="round" stroke-linejoin="round"><path d="M573,648.5 L574.4,654" stroke="#3a3a3a" stroke-width="6.3"/><path d="M573,648.5 L574.4,654" stroke="#bcbcbc" stroke-width="4.8"/><path d="M573,648.5 L574.4,654" stroke="#fbfbfb" stroke-width="2.16" transform="translate(-0.5,-0.7)"/></g>
<g fill="none" stroke-linecap="round" stroke-linejoin="round"><path d="M498.3,629.9 L507,631.5" stroke="#3a0000" stroke-width="6.1"/><path d="M498.3,629.9 L507,631.5" stroke="#a02020" stroke-width="4.6"/><path d="M498.3,629.9 L507,631.5" stroke="#e05050" stroke-width="2.07" transform="translate(-0.5,-0.7)"/></g>
<g fill="none" stroke-linecap="round" stroke-linejoin="round"><path d="M507,631.5 L534.7,628.3 L537.5,637" stroke="#1f5a08" stroke-width="6.1"/><path d="M507,631.5 L534.7,628.3 L537.5,637" stroke="#4cb01c" stroke-width="4.6"/><path d="M507,631.5 L534.7,628.3 L537.5,637" stroke="#8ef04e" stroke-width="2.07" transform="translate(-0.5,-0.7)"/></g>
<g fill="none" stroke-linecap="round" stroke-linejoin="round"><path d="M514.8,633.2 L520.6,639.6" stroke="#00004a" stroke-width="6.1"/><path d="M514.8,633.2 L520.6,639.6" stroke="#0000b0" stroke-width="4.6"/><path d="M514.8,633.2 L520.6,639.6" stroke="#3c3cff" stroke-width="2.07" transform="translate(-0.5,-0.7)"/></g>
<g fill="none" stroke-linecap="round" stroke-linejoin="round"><path d="M548,645 L558,646" stroke="#1f5a08" stroke-width="5.9"/><path d="M548,645 L558,646" stroke="#4cb01c" stroke-width="4.4"/><path d="M548,645 L558,646" stroke="#8ef04e" stroke-width="1.98" transform="translate(-0.5,-0.7)"/></g>
<circle cx="538" cy="646.9" r="11.3" fill="url(#sf)" stroke="#141414" stroke-width="0.9"/>
<g fill="none" stroke-linecap="round" stroke-linejoin="round"><path d="M553.5,566.6 L553,578" stroke="#00004a" stroke-width="6.1"/><path d="M553.5,566.6 L553,578" stroke="#0000b0" stroke-width="4.6"/><path d="M553.5,566.6 L553,578" stroke="#3c3cff" stroke-width="2.07" transform="translate(-0.5,-0.7)"/></g>
<g fill="none" stroke-linecap="round" stroke-linejoin="round"><path d="M553,578 L552.3,589" stroke="#1f5a08" stroke-width="6.1"/><path d="M553,578 L552.3,589" stroke="#4cb01c" stroke-width="4.6"/><path d="M553,578 L552.3,589" stroke="#8ef04e" stroke-width="2.07" transform="translate(-0.5,-0.7)"/></g>
<g fill="none" stroke-linecap="round" stroke-linejoin="round"><path d="M552.3,589 L543,594" stroke="#1f5a08" stroke-width="6.1"/><path d="M552.3,589 L543,594" stroke="#4cb01c" stroke-width="4.6"/><path d="M552.3,589 L543,594" stroke="#8ef04e" stroke-width="2.07" transform="translate(-0.5,-0.7)"/></g>
<g fill="none" stroke-linecap="round" stroke-linejoin="round"><path d="M543,594 L534.9,598.9" stroke="#00004a" stroke-width="6.1"/><path d="M543,594 L534.9,598.9" stroke="#0000b0" stroke-width="4.6"/><path d="M543,594 L534.9,598.9" stroke="#3c3cff" stroke-width="2.07" transform="translate(-0.5,-0.7)"/></g>
<g fill="none" stroke-linecap="round" stroke-linejoin="round"><path d="M552.3,589 L558,593.5" stroke="#1f5a08" stroke-width="6.1"/><path d="M552.3,589 L558,593.5" stroke="#4cb01c" stroke-width="4.6"/><path d="M552.3,589 L558,593.5" stroke="#8ef04e" stroke-width="2.07" transform="translate(-0.5,-0.7)"/></g>
<g fill="none" stroke-linecap="round" stroke-linejoin="round"><path d="M558,593.5 L564.7,598.1 L571,595" stroke="#00004a" stroke-width="6.1"/><path d="M558,593.5 L564.7,598.1 L571,595" stroke="#0000b0" stroke-width="4.6"/><path d="M558,593.5 L564.7,598.1 L571,595" stroke="#3c3cff" stroke-width="2.07" transform="translate(-0.5,-0.7)"/></g>
<g fill="none" stroke-linecap="round" stroke-linejoin="round"><path d="M571,595 L579.6,591.5 L583,603 L594.5,593.1 L604.5,604.7" stroke="#1f5a08" stroke-width="6.1"/><path d="M571,595 L579.6,591.5 L583,603 L594.5,593.1 L604.5,604.7" stroke="#4cb01c" stroke-width="4.6"/><path d="M571,595 L579.6,591.5 L583,603 L594.5,593.1 L604.5,604.7" stroke="#8ef04e" stroke-width="2.07" transform="translate(-0.5,-0.7)"/></g>
<path d="M563.9,604.7 L563.2,639.8 M525.6,639.9 L559,640.7" stroke="#e2d81c" stroke-width="2.3" stroke-dasharray="3.4 2.2" fill="none"/>
<circle cx="635.1" cy="595.6" r="9.8" fill="url(#sw)" stroke="#141414" stroke-width="0.9"/>
<text class="ld" x="498.6" y="597.8">R82</text>
<text class="ld" x="484.5" y="659.6">N80</text>
<text class="ld" x="541.3" y="677.4">D77</text>
<text class="ld" x="615.3" y="705.7">H78</text>
</svg>
</body></html>
